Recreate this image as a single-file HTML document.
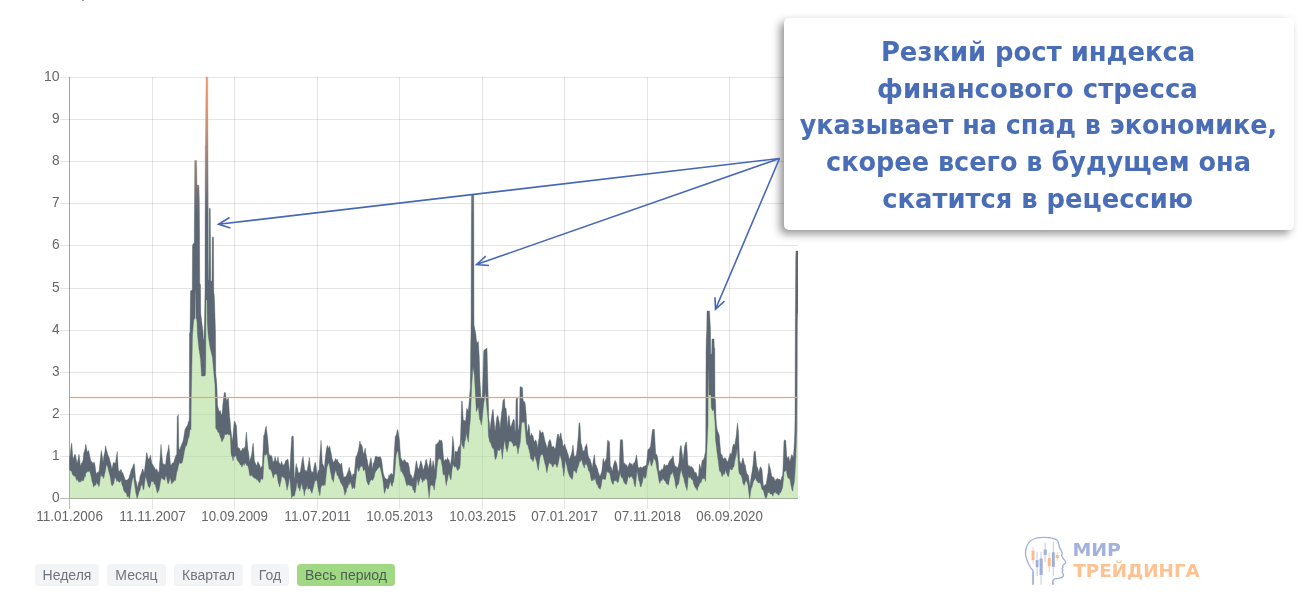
<!DOCTYPE html>
<html lang="ru">
<head>
<meta charset="utf-8">
<title>Индекс финансового стресса</title>
<style>
html,body{margin:0;padding:0;background:#fff;}
body{width:1300px;height:600px;position:relative;overflow:hidden;font-family:"Liberation Sans",sans-serif;}
#chart{position:absolute;left:0;top:0;width:1300px;height:600px;}
#chart text{font-family:"Liberation Sans",sans-serif;font-size:14px;fill:#666;}
#callout{position:absolute;left:784px;top:17.5px;width:510px;height:212.5px;background:#fff;border-radius:5px;
  box-shadow:-4px 4px 8px rgba(0,0,0,.42);}
#arrows{position:absolute;left:0;top:0;width:1300px;height:600px;}
#arrows text{font-family:"DejaVu Sans","Liberation Sans",sans-serif;font-weight:bold;font-size:25.9px;fill:#4a6db7;}
.btns{position:absolute;left:35px;top:564px;height:22px;white-space:nowrap;font-size:14px;}
.btn{position:absolute;top:0;height:22px;line-height:23px;border-radius:3.5px;background:#f3f4f6;color:#6d7680;text-align:center;}
.btn.on{background:#a1d884;color:#4d5f54;}
#logo{position:absolute;left:1020px;top:530px;width:190px;height:62px;}
#logo text{font-family:"DejaVu Sans","Liberation Sans",sans-serif;font-weight:bold;}
</style>
</head>
<body>
<svg id="chart" width="1300" height="600" viewBox="0 0 1300 600">
<defs>
<linearGradient id="lg" gradientUnits="userSpaceOnUse" x1="0" y1="77" x2="0" y2="215">
<stop offset="0" stop-color="#ef9a70"/>
<stop offset="0.38" stop-color="#c58d74"/>
<stop offset="0.62" stop-color="#96827e"/>
<stop offset="1" stop-color="#5c6773"/>
</linearGradient>
<clipPath id="cp"><rect x="69" y="76" width="729" height="423.5"/></clipPath>
</defs>
<rect x="82" y="0" width="2" height="1" fill="#999"/>
<g shape-rendering="crispEdges">
<rect x="69" y="77" width="1" height="422" fill="#a6a6a6"/>
<rect x="69" y="499" width="1" height="9.5" fill="#bdbdbd"/>
<rect x="152" y="77" width="1" height="431.5" fill="#000" fill-opacity="0.1"/>
<rect x="234" y="77" width="1" height="431.5" fill="#000" fill-opacity="0.1"/>
<rect x="317" y="77" width="1" height="431.5" fill="#000" fill-opacity="0.1"/>
<rect x="399" y="77" width="1" height="431.5" fill="#000" fill-opacity="0.1"/>
<rect x="482" y="77" width="1" height="431.5" fill="#000" fill-opacity="0.1"/>
<rect x="564" y="77" width="1" height="431.5" fill="#000" fill-opacity="0.1"/>
<rect x="647" y="77" width="1" height="431.5" fill="#000" fill-opacity="0.1"/>
<rect x="729" y="77" width="1" height="431.5" fill="#000" fill-opacity="0.1"/>
<rect x="60" y="77" width="738" height="1" fill="#000" fill-opacity="0.1"/>
<rect x="60" y="119" width="738" height="1" fill="#000" fill-opacity="0.1"/>
<rect x="60" y="161" width="738" height="1" fill="#000" fill-opacity="0.1"/>
<rect x="60" y="203" width="738" height="1" fill="#000" fill-opacity="0.1"/>
<rect x="60" y="245" width="738" height="1" fill="#000" fill-opacity="0.1"/>
<rect x="60" y="288" width="738" height="1" fill="#000" fill-opacity="0.1"/>
<rect x="60" y="330" width="738" height="1" fill="#000" fill-opacity="0.1"/>
<rect x="60" y="372" width="738" height="1" fill="#000" fill-opacity="0.1"/>
<rect x="60" y="414" width="738" height="1" fill="#000" fill-opacity="0.1"/>
<rect x="60" y="456" width="738" height="1" fill="#000" fill-opacity="0.1"/>
<rect x="69" y="498" width="729" height="1" fill="#a6a6a6"/>
<rect x="60" y="498" width="9" height="1" fill="#bdbdbd"/>
</g>
<g clip-path="url(#cp)">
<path d="M69.50,498.5 L69.50,457.3 L69.75,457.3 L70.25,454.5 L71.00,446.9 L71.50,443.2 L71.75,443.1 L72.50,453.7 L73.00,459.3 L73.25,458.3 L74.00,456.7 L74.25,455.7 L74.50,455.0 L74.75,454.4 L75.25,454.5 L75.50,455.1 L76.25,459.2 L77.00,463.2 L77.75,460.9 L78.50,456.8 L79.00,454.3 L79.25,455.8 L80.00,462.2 L80.25,464.7 L80.50,465.8 L80.75,466.1 L81.50,462.9 L82.25,462.6 L82.50,462.1 L83.00,460.3 L83.75,453.2 L84.50,450.9 L85.25,447.8 L85.50,445.6 L85.75,444.3 L86.00,444.8 L86.75,449.6 L87.00,451.2 L87.50,452.3 L88.25,450.3 L89.00,452.1 L89.75,456.3 L90.50,459.5 L91.00,461.4 L92.00,461.7 L92.75,463.6 L93.00,463.8 L93.50,462.8 L94.25,462.1 L94.50,462.8 L95.00,465.3 L95.75,471.1 L96.25,473.8 L96.50,474.1 L97.25,472.3 L98.00,472.7 L98.75,471.4 L99.00,471.5 L99.50,467.0 L100.25,459.4 L101.00,453.1 L101.25,450.4 L101.50,451.4 L101.75,452.7 L102.50,457.9 L103.00,461.8 L103.25,460.6 L104.00,455.3 L104.75,452.6 L105.50,445.9 L105.75,445.9 L106.25,449.3 L107.00,451.5 L107.50,453.7 L107.75,454.6 L108.50,456.3 L109.00,456.9 L110.00,461.1 L110.75,463.4 L111.50,467.2 L111.75,468.4 L112.25,467.7 L113.00,464.1 L113.50,462.4 L113.75,462.0 L114.50,463.3 L115.25,463.0 L115.50,462.5 L115.75,461.3 L116.00,458.9 L116.75,454.4 L117.25,451.4 L117.50,455.9 L118.25,468.3 L118.50,470.5 L119.00,471.6 L119.75,470.9 L120.50,470.0 L120.75,469.4 L121.25,469.9 L122.00,472.9 L122.75,472.5 L123.50,475.0 L123.75,475.7 L124.25,477.0 L125.00,479.4 L125.75,480.1 L126.25,480.4 L126.50,480.0 L127.25,479.9 L128.75,478.3 L129.00,477.9 L129.50,475.6 L130.25,473.4 L131.00,470.5 L131.50,469.2 L132.50,467.5 L133.25,465.3 L134.00,463.8 L134.25,463.7 L134.50,465.8 L134.75,469.0 L135.50,478.0 L135.75,480.0 L136.25,481.6 L137.50,487.3 L137.75,487.7 L138.50,481.9 L139.25,481.5 L140.00,476.6 L140.50,475.1 L140.75,474.4 L141.50,472.7 L142.25,469.7 L142.50,469.1 L143.00,469.1 L143.75,472.5 L144.25,472.4 L145.25,464.2 L146.00,458.6 L146.50,453.1 L146.75,452.3 L147.50,455.8 L148.25,459.1 L148.50,459.3 L149.00,458.8 L149.75,457.6 L150.25,455.3 L150.50,455.2 L151.25,460.0 L152.00,463.7 L152.25,464.4 L152.50,464.5 L152.75,464.2 L153.50,466.2 L154.25,467.0 L155.00,468.7 L155.75,470.2 L156.50,468.7 L157.00,469.7 L157.25,470.1 L158.00,472.5 L158.75,471.8 L159.00,472.3 L159.50,465.5 L160.25,456.1 L161.00,444.3 L161.75,453.7 L162.50,461.5 L163.00,464.7 L163.25,463.6 L164.00,464.4 L164.75,464.5 L165.50,464.4 L165.75,462.9 L166.25,458.4 L167.00,453.5 L167.75,451.2 L168.50,446.7 L168.75,444.8 L169.25,449.5 L170.00,459.6 L170.25,463.1 L170.50,464.4 L170.75,464.7 L171.50,465.1 L172.25,462.9 L172.50,463.1 L173.00,463.2 L173.75,462.2 L174.50,459.8 L175.25,457.1 L176.00,455.2 L176.75,454.4 L177.00,435.4 L177.25,416.4 L177.50,417.0 L178.25,414.5 L178.50,428.1 L178.75,445.1 L179.00,448.6 L179.50,449.7 L179.75,450.1 L180.50,447.2 L181.25,445.6 L182.00,443.2 L182.25,443.1 L182.50,442.6 L182.75,441.9 L183.50,438.7 L185.00,429.5 L185.75,428.0 L186.50,426.7 L187.25,425.7 L188.00,423.7 L188.25,422.2 L188.50,421.7 L188.75,421.3 L189.00,422.6 L189.25,417.2 L189.50,333.0 L190.00,332.3 L190.25,311.5 L190.50,290.9 L192.25,290.0 L192.50,246.0 L193.00,244.0 L194.25,243.1 L194.50,201.8 L194.75,160.5 L196.50,160.5 L196.75,168.4 L197.00,188.5 L197.25,185.0 L198.75,185.0 L199.00,189.0 L199.25,199.0 L199.50,227.3 L199.75,283.0 L200.50,285.0 L200.75,313.4 L203.00,332.0 L203.25,338.7 L203.50,340.0 L203.75,340.0 L204.00,336.9 L204.50,321.1 L204.75,307.5 L205.00,290.0 L205.25,145.0 L205.50,145.0 L206.00,77.0 L207.75,77.0 L208.00,150.0 L208.25,258.3 L208.50,280.0 L209.00,280.0 L209.25,208.4 L210.25,208.4 L210.75,281.0 L212.00,281.0 L212.25,237.3 L213.50,237.3 L213.75,291.3 L214.25,295.7 L214.50,300.3 L215.50,333.0 L215.75,373.5 L216.75,383.5 L217.00,388.3 L217.25,396.3 L217.50,404.9 L218.00,407.5 L218.75,410.3 L219.50,411.7 L220.25,410.5 L221.00,413.6 L221.75,415.1 L222.00,414.0 L223.25,400.4 L224.00,394.5 L224.25,392.6 L224.75,392.7 L225.25,392.6 L225.50,393.4 L226.25,398.5 L226.50,400.4 L227.00,400.2 L227.25,399.2 L227.50,399.0 L227.75,399.0 L228.25,397.8 L228.50,398.9 L229.25,412.0 L229.50,415.5 L229.75,417.9 L230.00,419.5 L230.75,429.1 L232.25,441.0 L232.50,440.2 L233.00,435.5 L233.75,426.2 L234.25,421.4 L234.50,421.1 L235.25,422.4 L236.00,425.0 L236.25,424.9 L236.50,427.2 L236.75,430.7 L237.50,445.3 L237.75,447.6 L238.25,447.4 L239.00,448.5 L239.75,448.5 L240.25,450.5 L240.50,451.1 L241.25,451.0 L242.00,449.8 L242.75,448.0 L243.00,448.4 L243.50,449.4 L244.25,447.1 L245.00,449.0 L245.75,438.9 L246.25,432.0 L246.50,432.6 L247.25,441.9 L247.50,444.9 L247.75,447.6 L248.00,449.5 L248.75,453.8 L249.50,461.2 L249.75,461.7 L250.25,458.7 L251.00,457.3 L251.50,455.1 L251.75,453.9 L252.50,446.5 L253.25,443.2 L253.50,446.6 L254.00,454.0 L254.25,458.5 L254.50,460.8 L254.75,461.9 L255.50,463.2 L256.25,465.0 L256.50,465.4 L257.00,465.5 L257.75,461.6 L258.25,461.8 L258.50,462.7 L259.25,464.2 L260.00,465.5 L260.25,467.0 L260.50,467.8 L260.75,468.3 L261.50,466.6 L262.25,466.7 L262.50,462.6 L263.50,439.4 L263.75,435.2 L264.50,434.6 L265.25,429.2 L266.00,426.4 L266.25,426.3 L266.50,428.2 L266.75,431.2 L267.50,436.8 L267.75,439.2 L268.25,445.2 L269.00,455.9 L269.75,454.3 L270.50,456.3 L271.25,455.7 L271.50,455.4 L271.75,455.7 L272.75,461.0 L273.00,462.8 L273.50,461.4 L274.25,460.9 L275.00,456.4 L275.75,459.0 L276.25,461.5 L276.50,461.5 L277.25,460.9 L277.75,457.7 L278.00,456.6 L278.75,462.3 L279.25,463.4 L279.50,462.7 L280.25,464.9 L281.00,463.1 L281.50,461.8 L281.75,461.3 L282.50,465.2 L283.25,464.3 L283.50,465.1 L283.75,465.5 L284.00,465.5 L284.75,463.6 L285.50,461.0 L285.75,460.6 L287.00,459.7 L287.75,459.1 L288.00,459.3 L288.50,462.9 L289.25,468.7 L289.50,471.6 L289.75,472.3 L290.00,468.8 L290.75,452.5 L291.50,440.4 L291.75,436.9 L292.25,435.9 L293.00,435.9 L293.25,436.4 L293.50,441.6 L293.75,453.8 L294.25,477.3 L294.50,480.0 L296.00,464.5 L296.25,463.5 L296.50,464.7 L296.75,467.0 L297.50,467.7 L298.25,472.6 L298.50,472.9 L299.00,472.6 L299.75,472.7 L300.25,471.9 L300.50,470.7 L302.00,460.8 L302.75,457.8 L303.00,456.4 L304.25,466.1 L305.00,471.4 L305.75,469.9 L307.00,471.8 L307.25,470.3 L308.00,465.5 L308.75,461.7 L309.25,457.2 L309.50,458.3 L310.25,465.4 L311.00,470.3 L311.75,472.5 L312.50,471.7 L313.00,473.0 L313.25,471.9 L314.00,466.8 L314.75,463.2 L315.25,462.1 L315.50,462.9 L316.25,466.8 L317.00,474.6 L317.75,472.4 L318.50,469.9 L319.00,470.8 L319.25,467.8 L320.00,453.9 L320.75,444.9 L321.00,440.2 L321.50,447.4 L322.25,463.1 L322.50,464.3 L323.00,464.3 L323.75,466.3 L324.25,468.6 L324.50,467.4 L325.00,460.5 L325.25,457.9 L326.00,452.2 L326.50,448.2 L327.50,445.4 L328.25,447.8 L329.00,448.0 L329.50,446.4 L329.75,446.0 L330.50,450.7 L331.25,453.4 L331.75,456.7 L332.00,458.4 L332.75,459.9 L333.00,461.7 L333.50,461.9 L334.25,461.5 L335.00,460.1 L335.75,458.3 L336.50,460.8 L337.25,459.1 L337.50,459.7 L337.75,460.6 L338.00,461.8 L338.75,462.5 L339.50,463.2 L339.75,464.1 L340.25,464.6 L341.00,463.9 L341.50,463.0 L341.75,463.3 L342.50,470.4 L343.25,474.4 L343.50,476.5 L343.75,477.8 L344.75,476.5 L345.50,477.0 L346.25,475.8 L346.50,475.2 L347.00,473.9 L347.75,472.3 L348.50,469.9 L349.25,467.1 L349.50,468.3 L350.00,470.8 L350.75,472.5 L351.75,476.3 L352.25,476.8 L353.00,473.6 L353.75,474.4 L354.25,473.9 L354.50,472.0 L355.25,462.7 L355.75,457.7 L356.00,455.8 L356.75,456.2 L357.50,453.1 L357.75,452.8 L358.25,450.8 L359.00,447.0 L359.75,441.2 L360.00,441.1 L360.50,443.7 L361.25,444.4 L362.00,445.8 L362.25,446.7 L362.50,448.1 L362.75,449.9 L363.50,453.4 L363.75,454.4 L364.25,452.9 L365.00,448.4 L365.25,448.0 L365.50,450.3 L365.75,452.8 L366.50,456.8 L366.75,458.0 L367.25,460.0 L368.00,464.7 L368.25,466.5 L368.50,466.9 L368.75,466.6 L369.50,463.9 L370.25,460.4 L371.00,457.5 L371.75,463.2 L372.25,468.3 L372.50,468.9 L373.25,463.1 L374.00,462.6 L374.75,459.5 L375.00,457.8 L375.50,456.2 L376.25,456.2 L377.75,456.9 L378.50,457.0 L379.00,456.9 L379.25,457.3 L380.00,456.4 L380.75,457.4 L381.50,459.7 L381.75,460.7 L383.00,471.2 L383.50,474.0 L384.50,477.0 L385.25,478.3 L386.00,478.7 L386.75,479.3 L387.00,479.4 L387.50,478.9 L388.25,478.2 L389.00,474.6 L389.75,476.6 L390.25,474.7 L390.50,473.9 L391.25,473.6 L392.00,473.7 L392.75,474.9 L393.00,474.4 L393.50,465.7 L393.75,461.3 L394.25,452.5 L395.00,440.0 L395.25,436.4 L395.50,436.1 L395.75,436.1 L396.50,433.9 L397.25,429.9 L397.50,429.4 L397.75,429.6 L398.75,435.8 L399.25,438.4 L399.50,440.5 L400.25,452.1 L400.50,455.2 L400.75,458.2 L401.00,458.0 L402.50,461.3 L403.25,461.5 L403.75,460.2 L404.00,459.5 L404.75,460.1 L405.50,461.0 L405.75,461.4 L406.25,462.4 L407.00,462.3 L407.75,462.6 L408.25,463.3 L409.25,467.3 L410.00,472.9 L410.25,473.9 L410.50,474.5 L410.75,474.8 L411.50,475.4 L412.25,477.8 L413.00,478.7 L413.75,476.3 L414.50,473.2 L414.75,471.8 L415.25,467.8 L416.00,463.0 L416.25,460.7 L416.50,460.8 L416.75,462.1 L417.50,466.7 L418.25,469.0 L418.50,469.3 L419.00,468.3 L419.75,465.3 L420.50,461.8 L421.00,460.7 L421.25,462.1 L422.00,464.3 L422.75,468.1 L423.00,469.8 L423.50,469.5 L424.25,466.8 L425.00,464.6 L425.75,460.4 L426.25,459.1 L426.50,459.8 L427.25,463.4 L428.00,467.6 L428.25,468.9 L428.50,468.2 L428.75,466.3 L429.50,463.6 L430.25,457.9 L430.50,458.2 L431.00,461.7 L431.50,466.8 L431.75,468.0 L432.50,465.0 L433.00,460.6 L433.25,461.6 L434.00,464.9 L434.75,469.2 L435.00,470.4 L435.50,450.4 L435.75,444.2 L436.25,444.4 L437.00,444.1 L437.75,442.6 L438.50,442.8 L439.25,439.7 L440.00,440.5 L440.50,440.7 L440.75,440.9 L441.50,439.8 L442.25,442.5 L442.50,445.0 L443.00,451.7 L443.50,457.6 L443.75,459.5 L444.50,461.3 L445.25,459.6 L446.00,459.3 L446.75,460.5 L447.50,457.4 L448.25,459.9 L448.50,459.6 L449.00,459.7 L449.75,463.0 L450.25,464.9 L450.50,464.3 L451.25,459.8 L451.50,457.8 L451.75,454.7 L452.00,449.4 L452.50,440.3 L452.75,436.2 L453.50,442.0 L454.00,447.0 L454.25,454.1 L454.50,462.2 L454.75,460.4 L455.00,452.0 L455.75,450.9 L456.50,452.1 L457.25,451.8 L457.50,451.3 L457.75,450.6 L458.00,449.4 L458.75,446.7 L459.50,446.4 L460.25,443.6 L460.50,438.1 L461.00,422.4 L461.25,414.9 L461.50,406.3 L461.75,400.9 L462.00,400.9 L462.25,401.8 L462.50,406.6 L463.25,419.8 L463.50,420.2 L464.75,420.5 L465.50,421.4 L465.75,419.9 L466.25,413.3 L466.50,410.6 L466.75,408.2 L467.00,408.9 L467.75,409.7 L468.25,411.0 L468.50,409.1 L469.25,400.5 L469.75,393.5 L470.00,390.9 L470.25,387.7 L470.50,367.7 L470.75,343.0 L471.00,333.0 L471.25,259.9 L471.50,194.7 L473.75,194.7 L474.00,325.0 L476.00,335.0 L476.25,339.2 L476.50,340.8 L477.00,342.7 L478.25,341.4 L478.50,344.2 L479.25,357.0 L479.50,365.3 L479.75,373.8 L480.00,381.2 L481.00,398.7 L482.25,396.2 L482.50,390.3 L483.50,356.3 L483.75,350.6 L487.00,348.0 L487.75,379.1 L488.00,388.7 L488.25,397.5 L488.75,417.5 L489.00,420.0 L489.25,421.8 L489.50,424.8 L490.00,430.0 L490.25,428.0 L491.00,421.2 L491.75,415.6 L492.00,413.7 L492.50,410.6 L493.00,409.3 L493.25,411.0 L493.75,417.4 L494.75,427.9 L495.00,431.2 L495.50,428.0 L496.25,421.4 L496.75,417.7 L497.00,416.7 L497.75,415.4 L498.00,415.9 L498.25,417.2 L498.50,419.3 L499.00,421.1 L499.25,422.1 L500.00,429.0 L500.75,420.7 L501.50,413.4 L501.75,411.8 L502.00,410.1 L502.25,408.2 L503.00,400.7 L503.25,399.7 L503.75,400.0 L504.25,398.4 L504.50,399.3 L505.00,407.7 L505.25,408.3 L506.00,408.0 L506.75,415.4 L507.00,419.0 L507.50,427.4 L508.25,419.4 L508.50,416.2 L509.00,415.4 L509.25,416.1 L509.50,418.3 L509.75,421.9 L510.00,424.8 L510.50,426.4 L510.75,426.8 L511.25,426.1 L511.75,424.3 L512.00,423.2 L512.75,421.2 L513.00,420.1 L513.25,419.4 L513.50,419.2 L514.25,420.0 L514.50,422.3 L515.00,430.7 L515.50,432.2 L515.75,422.1 L516.00,400.0 L516.50,398.3 L517.25,397.9 L517.50,398.0 L517.75,418.4 L518.00,428.9 L518.50,430.7 L519.25,423.2 L519.50,415.4 L520.00,387.2 L520.25,386.6 L521.00,387.2 L521.75,387.1 L522.50,388.0 L523.00,399.0 L523.25,401.4 L524.00,400.9 L524.75,402.5 L525.00,402.4 L525.50,407.0 L526.00,411.9 L526.25,416.1 L526.75,425.7 L527.00,429.4 L527.50,433.2 L527.75,431.4 L528.50,424.3 L529.25,426.3 L529.50,428.2 L530.00,434.7 L530.25,435.5 L530.50,435.9 L530.75,436.0 L531.50,433.1 L532.25,435.7 L532.50,435.4 L533.00,435.4 L533.75,440.0 L534.25,441.5 L535.25,440.9 L535.50,440.1 L535.75,439.8 L536.00,440.6 L536.75,442.3 L537.50,447.8 L537.75,447.4 L538.25,442.4 L539.00,438.0 L539.50,432.1 L539.75,429.9 L540.50,431.6 L541.25,433.5 L541.50,433.2 L541.75,432.7 L542.00,431.7 L542.75,432.2 L543.00,431.9 L544.25,437.5 L545.00,441.2 L545.75,443.2 L546.50,445.9 L547.00,448.4 L548.00,445.2 L548.75,441.3 L549.50,440.6 L549.75,439.6 L550.25,439.7 L551.00,441.9 L551.50,445.3 L551.75,446.8 L552.50,447.1 L553.25,446.1 L554.00,447.2 L554.25,447.9 L554.50,448.4 L554.75,448.8 L555.50,447.8 L555.75,446.7 L556.25,442.3 L557.00,437.4 L557.50,434.6 L557.75,434.1 L558.50,434.0 L559.00,437.9 L559.25,438.4 L560.00,435.5 L560.75,432.8 L561.00,433.0 L561.50,437.6 L562.25,440.3 L563.00,446.4 L563.75,445.9 L564.50,443.9 L565.00,444.6 L565.25,446.2 L566.00,448.6 L566.75,449.9 L567.50,452.9 L567.75,453.7 L568.25,454.8 L569.00,458.5 L569.50,459.0 L569.75,458.6 L570.50,456.6 L571.25,454.4 L572.00,451.4 L572.75,445.8 L573.00,445.0 L573.50,449.7 L574.25,456.4 L574.50,456.9 L575.00,456.3 L576.25,455.2 L576.50,453.6 L577.25,447.3 L578.00,438.6 L578.25,436.2 L578.50,432.3 L579.00,422.9 L579.50,423.0 L579.75,422.7 L580.00,425.7 L580.25,429.5 L581.00,443.1 L581.75,445.1 L582.50,449.5 L583.00,451.1 L583.25,451.3 L584.00,450.4 L584.50,451.0 L584.75,449.2 L585.00,446.4 L585.50,446.7 L586.25,444.8 L586.50,443.8 L586.75,444.1 L587.00,445.4 L587.75,452.8 L588.25,456.0 L588.50,456.5 L589.25,458.5 L590.00,459.1 L590.25,459.6 L590.50,460.5 L590.75,461.7 L591.50,464.0 L592.25,467.7 L592.50,466.4 L593.00,462.2 L593.75,458.1 L594.25,454.7 L594.50,455.2 L595.25,463.4 L595.50,464.5 L595.75,465.1 L596.00,464.8 L596.75,467.3 L597.50,468.4 L597.75,469.4 L598.25,472.2 L599.00,474.1 L599.50,475.7 L599.75,476.0 L600.50,475.3 L601.25,472.7 L601.50,472.5 L601.75,471.6 L602.00,469.2 L602.75,462.4 L603.00,459.1 L603.50,458.4 L604.25,462.2 L605.00,461.4 L605.75,459.2 L606.25,459.3 L606.50,457.5 L607.25,445.1 L607.50,442.0 L607.75,439.9 L608.00,440.2 L608.75,442.5 L609.25,441.2 L609.50,443.2 L610.25,465.2 L610.50,467.0 L611.00,466.7 L611.75,469.6 L612.25,470.9 L612.50,470.5 L613.25,466.1 L614.00,463.4 L614.75,461.2 L615.00,460.2 L615.50,461.6 L616.25,462.2 L617.00,465.0 L617.75,469.9 L618.50,470.8 L619.00,473.8 L619.25,468.0 L620.00,447.4 L620.25,441.4 L620.50,439.5 L620.75,439.8 L622.25,439.7 L622.50,439.8 L622.75,443.2 L623.50,459.9 L623.75,463.6 L624.50,463.3 L625.00,463.5 L626.00,465.4 L626.75,464.7 L627.50,467.5 L627.75,467.3 L628.25,465.9 L629.00,463.9 L629.75,462.5 L630.25,463.0 L630.50,463.7 L631.25,464.2 L632.00,463.4 L632.75,466.0 L633.00,465.7 L633.50,463.4 L634.25,462.7 L635.00,461.6 L635.75,458.4 L636.25,455.1 L636.50,455.3 L637.25,459.9 L638.00,466.5 L638.25,467.2 L638.75,467.8 L639.50,467.9 L640.25,466.7 L641.00,467.6 L642.50,467.8 L643.25,466.2 L643.75,466.8 L644.00,467.3 L644.75,465.7 L645.50,465.6 L646.25,466.0 L646.50,464.3 L647.00,458.7 L647.50,452.6 L647.75,450.5 L648.50,448.8 L649.25,449.2 L650.00,447.0 L650.25,447.3 L650.50,446.2 L650.75,444.4 L651.50,437.7 L652.25,431.2 L652.50,430.0 L653.00,429.0 L653.75,429.6 L654.25,429.2 L654.50,432.3 L655.25,446.1 L655.50,450.8 L655.75,454.1 L656.00,454.6 L656.75,454.6 L657.50,456.9 L657.75,457.7 L658.25,462.6 L659.00,471.9 L659.75,470.4 L660.50,471.3 L661.25,469.7 L661.50,469.6 L661.75,469.3 L662.00,468.7 L662.75,469.9 L663.50,466.6 L664.25,464.0 L664.50,464.4 L665.00,465.4 L665.75,466.0 L666.50,465.1 L667.00,465.3 L667.25,465.4 L668.00,464.6 L668.75,462.5 L669.50,461.1 L670.25,460.0 L670.50,459.7 L671.00,458.9 L671.75,458.2 L672.50,457.2 L672.75,455.8 L673.25,456.1 L674.00,462.2 L674.50,464.4 L674.75,465.2 L675.50,466.6 L676.25,466.5 L677.00,467.9 L677.75,467.6 L678.50,464.8 L679.00,462.5 L679.25,458.7 L679.75,451.5 L680.00,448.6 L680.75,445.4 L681.25,445.9 L681.50,448.7 L682.25,454.0 L683.00,460.2 L683.75,454.2 L684.50,447.5 L685.00,444.7 L685.25,444.8 L686.00,441.8 L686.50,442.2 L686.75,445.2 L687.50,456.9 L687.75,461.4 L688.00,464.8 L688.25,465.1 L689.00,466.8 L689.75,465.5 L690.50,467.2 L691.00,466.6 L692.00,467.1 L692.75,468.3 L693.50,468.8 L693.75,469.8 L694.25,471.5 L695.00,473.1 L695.75,471.9 L696.25,472.9 L696.50,473.6 L697.25,476.7 L698.00,476.3 L698.25,477.4 L698.50,475.9 L698.75,473.0 L699.25,465.9 L699.50,464.1 L700.25,466.2 L701.00,469.8 L701.75,462.7 L702.25,460.2 L702.50,459.9 L703.25,460.2 L704.00,458.0 L704.25,457.7 L704.50,456.6 L704.75,455.1 L705.50,451.3 L705.75,441.0 L706.00,354.0 L706.25,339.8 L706.50,334.2 L706.75,330.7 L707.00,311.0 L709.50,311.0 L710.50,330.0 L710.75,354.0 L711.75,354.0 L712.00,339.0 L714.00,339.0 L714.25,348.0 L714.75,348.0 L715.00,399.1 L715.50,399.7 L715.75,407.5 L716.00,417.9 L716.50,425.0 L716.75,426.7 L717.50,431.1 L718.00,432.6 L718.25,432.4 L719.00,434.7 L719.25,435.3 L719.50,438.1 L719.75,442.0 L720.50,450.3 L720.75,453.0 L721.25,454.4 L722.00,454.8 L722.50,456.6 L722.75,457.4 L723.50,459.3 L724.25,458.3 L725.00,457.6 L725.25,457.8 L725.75,458.5 L726.50,460.2 L727.25,461.7 L728.00,461.2 L728.75,458.2 L729.50,456.1 L729.75,454.8 L730.25,453.0 L731.00,455.2 L731.50,453.8 L731.75,452.4 L732.50,447.6 L733.25,444.7 L733.50,444.1 L734.00,444.2 L734.50,445.2 L734.75,445.0 L735.50,440.1 L736.00,437.4 L736.25,435.6 L737.00,426.9 L737.50,423.1 L737.75,424.4 L738.50,433.1 L738.75,437.9 L739.25,452.8 L739.50,459.5 L739.75,461.9 L740.00,461.5 L740.75,463.5 L741.25,463.9 L741.50,463.5 L742.25,459.4 L742.75,458.0 L743.00,457.8 L743.75,461.1 L744.50,464.2 L744.75,464.4 L745.25,464.9 L746.00,469.9 L746.50,472.2 L746.75,473.2 L747.50,474.6 L748.25,475.0 L748.50,475.9 L748.75,477.3 L749.00,479.7 L749.75,484.8 L750.00,486.4 L750.50,481.7 L751.25,476.0 L751.50,474.5 L752.00,471.9 L752.75,466.7 L753.00,464.9 L753.50,458.9 L754.00,452.1 L754.25,452.1 L755.00,450.9 L755.25,451.2 L755.50,453.1 L755.75,455.8 L756.50,464.6 L756.75,466.2 L757.25,467.1 L758.00,468.9 L758.50,472.1 L758.75,473.2 L759.50,469.6 L760.25,467.2 L760.50,466.7 L760.75,466.7 L761.00,467.7 L761.75,469.3 L762.00,470.0 L762.50,475.4 L763.25,484.9 L763.50,486.0 L764.00,486.3 L764.75,485.0 L765.50,484.2 L766.00,484.9 L766.25,483.8 L767.00,479.0 L767.75,474.6 L768.00,472.9 L768.50,466.8 L768.75,464.5 L769.00,463.3 L769.25,465.2 L770.00,467.5 L770.50,469.8 L770.75,470.7 L771.50,474.9 L772.25,477.0 L772.50,477.1 L772.75,477.1 L773.00,476.8 L773.75,477.4 L774.50,479.4 L775.25,481.3 L775.50,480.5 L776.00,478.9 L776.75,479.4 L777.50,478.2 L778.00,478.9 L778.25,479.6 L779.00,479.1 L779.75,479.2 L780.50,480.4 L780.75,480.2 L781.25,478.9 L782.00,476.4 L782.50,475.8 L782.75,473.4 L783.50,454.5 L784.00,440.5 L784.25,440.4 L785.00,439.8 L785.50,440.3 L785.75,440.8 L786.50,453.1 L786.75,456.5 L787.25,457.1 L788.00,458.6 L788.50,457.1 L788.75,456.5 L789.50,460.5 L790.00,461.3 L791.00,457.3 L791.50,454.9 L791.75,454.6 L792.50,455.4 L793.25,457.8 L793.50,455.8 L794.00,448.8 L794.25,444.4 L794.50,440.0 L794.75,433.0 L795.00,420.0 L795.25,333.3 L795.50,297.5 L795.75,258.7 L796.00,251.0 L798.00,251.0 L798.00,498.5 Z" fill="#a1d884" fill-opacity="0.5"/>
<path d="M69.50,457.3 L69.75,457.3 L70.25,454.5 L71.00,446.9 L71.50,443.2 L71.75,443.1 L72.50,453.7 L73.00,459.3 L73.25,458.3 L74.00,456.7 L74.25,455.7 L74.50,455.0 L74.75,454.4 L75.25,454.5 L75.50,455.1 L76.25,459.2 L77.00,463.2 L77.75,460.9 L78.50,456.8 L79.00,454.3 L79.25,455.8 L80.00,462.2 L80.25,464.7 L80.50,465.8 L80.75,466.1 L81.50,462.9 L82.25,462.6 L82.50,462.1 L83.00,460.3 L83.75,453.2 L84.50,450.9 L85.25,447.8 L85.50,445.6 L85.75,444.3 L86.00,444.8 L86.75,449.6 L87.00,451.2 L87.50,452.3 L88.25,450.3 L89.00,452.1 L89.75,456.3 L90.50,459.5 L91.00,461.4 L92.00,461.7 L92.75,463.6 L93.00,463.8 L93.50,462.8 L94.25,462.1 L94.50,462.8 L95.00,465.3 L95.75,471.1 L96.25,473.8 L96.50,474.1 L97.25,472.3 L98.00,472.7 L98.75,471.4 L99.00,471.5 L99.50,467.0 L100.25,459.4 L101.00,453.1 L101.25,450.4 L101.50,451.4 L101.75,452.7 L102.50,457.9 L103.00,461.8 L103.25,460.6 L104.00,455.3 L104.75,452.6 L105.50,445.9 L105.75,445.9 L106.25,449.3 L107.00,451.5 L107.50,453.7 L107.75,454.6 L108.50,456.3 L109.00,456.9 L110.00,461.1 L110.75,463.4 L111.50,467.2 L111.75,468.4 L112.25,467.7 L113.00,464.1 L113.50,462.4 L113.75,462.0 L114.50,463.3 L115.25,463.0 L115.50,462.5 L115.75,461.3 L116.00,458.9 L116.75,454.4 L117.25,451.4 L117.50,455.9 L118.25,468.3 L118.50,470.5 L119.00,471.6 L119.75,470.9 L120.50,470.0 L120.75,469.4 L121.25,469.9 L122.00,472.9 L122.75,472.5 L123.50,475.0 L123.75,475.7 L124.25,477.0 L125.00,479.4 L125.75,480.1 L126.25,480.4 L126.50,480.0 L127.25,479.9 L128.75,478.3 L129.00,477.9 L129.50,475.6 L130.25,473.4 L131.00,470.5 L131.50,469.2 L132.50,467.5 L133.25,465.3 L134.00,463.8 L134.25,463.7 L134.50,465.8 L134.75,469.0 L135.50,478.0 L135.75,480.0 L136.25,481.6 L137.50,487.3 L137.75,487.7 L138.50,481.9 L139.25,481.5 L140.00,476.6 L140.50,475.1 L140.75,474.4 L141.50,472.7 L142.25,469.7 L142.50,469.1 L143.00,469.1 L143.75,472.5 L144.25,472.4 L145.25,464.2 L146.00,458.6 L146.50,453.1 L146.75,452.3 L147.50,455.8 L148.25,459.1 L148.50,459.3 L149.00,458.8 L149.75,457.6 L150.25,455.3 L150.50,455.2 L151.25,460.0 L152.00,463.7 L152.25,464.4 L152.50,464.5 L152.75,464.2 L153.50,466.2 L154.25,467.0 L155.00,468.7 L155.75,470.2 L156.50,468.7 L157.00,469.7 L157.25,470.1 L158.00,472.5 L158.75,471.8 L159.00,472.3 L159.50,465.5 L160.25,456.1 L161.00,444.3 L161.75,453.7 L162.50,461.5 L163.00,464.7 L163.25,463.6 L164.00,464.4 L164.75,464.5 L165.50,464.4 L165.75,462.9 L166.25,458.4 L167.00,453.5 L167.75,451.2 L168.50,446.7 L168.75,444.8 L169.25,449.5 L170.00,459.6 L170.25,463.1 L170.50,464.4 L170.75,464.7 L171.50,465.1 L172.25,462.9 L172.50,463.1 L173.00,463.2 L173.75,462.2 L174.50,459.8 L175.25,457.1 L176.00,455.2 L176.75,454.4 L177.00,435.4 L177.25,416.4 L177.50,417.0 L178.25,414.5 L178.50,428.1 L178.75,445.1 L179.00,448.6 L179.50,449.7 L179.75,450.1 L180.50,447.2 L181.25,445.6 L182.00,443.2 L182.25,443.1 L182.50,442.6 L182.75,441.9 L183.50,438.7 L185.00,429.5 L185.75,428.0 L186.50,426.7 L187.25,425.7 L188.00,423.7 L188.25,422.2 L188.50,421.7 L188.75,421.3 L189.00,422.6 L189.25,417.2 L189.50,333.0 L190.00,332.3 L190.25,311.5 L190.50,290.9 L192.25,290.0 L192.50,246.0 L193.00,244.0 L194.25,243.1 L194.50,201.8 L194.75,160.5 L196.50,160.5 L196.75,168.4 L197.00,188.5 L197.25,185.0 L198.75,185.0 L199.00,189.0 L199.25,199.0 L199.50,227.3 L199.75,283.0 L200.50,285.0 L200.75,313.4 L203.00,332.0 L203.25,338.7 L203.50,340.0 L203.75,340.0 L204.00,336.9 L204.50,321.1 L204.75,307.5 L205.00,290.0 L205.25,145.0 L205.50,145.0 L206.00,77.0 L207.75,77.0 L208.00,150.0 L208.25,258.3 L208.50,280.0 L209.00,280.0 L209.25,208.4 L210.25,208.4 L210.75,281.0 L212.00,281.0 L212.25,237.3 L213.50,237.3 L213.75,291.3 L214.25,295.7 L214.50,300.3 L215.50,333.0 L215.75,373.5 L216.75,383.5 L217.00,388.3 L217.25,396.3 L217.50,404.9 L218.00,407.5 L218.75,410.3 L219.50,411.7 L220.25,410.5 L221.00,413.6 L221.75,415.1 L222.00,414.0 L223.25,400.4 L224.00,394.5 L224.25,392.6 L224.75,392.7 L225.25,392.6 L225.50,393.4 L226.25,398.5 L226.50,400.4 L227.00,400.2 L227.25,399.2 L227.50,399.0 L227.75,399.0 L228.25,397.8 L228.50,398.9 L229.25,412.0 L229.50,415.5 L229.75,417.9 L230.00,419.5 L230.75,429.1 L232.25,441.0 L232.50,440.2 L233.00,435.5 L233.75,426.2 L234.25,421.4 L234.50,421.1 L235.25,422.4 L236.00,425.0 L236.25,424.9 L236.50,427.2 L236.75,430.7 L237.50,445.3 L237.75,447.6 L238.25,447.4 L239.00,448.5 L239.75,448.5 L240.25,450.5 L240.50,451.1 L241.25,451.0 L242.00,449.8 L242.75,448.0 L243.00,448.4 L243.50,449.4 L244.25,447.1 L245.00,449.0 L245.75,438.9 L246.25,432.0 L246.50,432.6 L247.25,441.9 L247.50,444.9 L247.75,447.6 L248.00,449.5 L248.75,453.8 L249.50,461.2 L249.75,461.7 L250.25,458.7 L251.00,457.3 L251.50,455.1 L251.75,453.9 L252.50,446.5 L253.25,443.2 L253.50,446.6 L254.00,454.0 L254.25,458.5 L254.50,460.8 L254.75,461.9 L255.50,463.2 L256.25,465.0 L256.50,465.4 L257.00,465.5 L257.75,461.6 L258.25,461.8 L258.50,462.7 L259.25,464.2 L260.00,465.5 L260.25,467.0 L260.50,467.8 L260.75,468.3 L261.50,466.6 L262.25,466.7 L262.50,462.6 L263.50,439.4 L263.75,435.2 L264.50,434.6 L265.25,429.2 L266.00,426.4 L266.25,426.3 L266.50,428.2 L266.75,431.2 L267.50,436.8 L267.75,439.2 L268.25,445.2 L269.00,455.9 L269.75,454.3 L270.50,456.3 L271.25,455.7 L271.50,455.4 L271.75,455.7 L272.75,461.0 L273.00,462.8 L273.50,461.4 L274.25,460.9 L275.00,456.4 L275.75,459.0 L276.25,461.5 L276.50,461.5 L277.25,460.9 L277.75,457.7 L278.00,456.6 L278.75,462.3 L279.25,463.4 L279.50,462.7 L280.25,464.9 L281.00,463.1 L281.50,461.8 L281.75,461.3 L282.50,465.2 L283.25,464.3 L283.50,465.1 L283.75,465.5 L284.00,465.5 L284.75,463.6 L285.50,461.0 L285.75,460.6 L287.00,459.7 L287.75,459.1 L288.00,459.3 L288.50,462.9 L289.25,468.7 L289.50,471.6 L289.75,472.3 L290.00,468.8 L290.75,452.5 L291.50,440.4 L291.75,436.9 L292.25,435.9 L293.00,435.9 L293.25,436.4 L293.50,441.6 L293.75,453.8 L294.25,477.3 L294.50,480.0 L296.00,464.5 L296.25,463.5 L296.50,464.7 L296.75,467.0 L297.50,467.7 L298.25,472.6 L298.50,472.9 L299.00,472.6 L299.75,472.7 L300.25,471.9 L300.50,470.7 L302.00,460.8 L302.75,457.8 L303.00,456.4 L304.25,466.1 L305.00,471.4 L305.75,469.9 L307.00,471.8 L307.25,470.3 L308.00,465.5 L308.75,461.7 L309.25,457.2 L309.50,458.3 L310.25,465.4 L311.00,470.3 L311.75,472.5 L312.50,471.7 L313.00,473.0 L313.25,471.9 L314.00,466.8 L314.75,463.2 L315.25,462.1 L315.50,462.9 L316.25,466.8 L317.00,474.6 L317.75,472.4 L318.50,469.9 L319.00,470.8 L319.25,467.8 L320.00,453.9 L320.75,444.9 L321.00,440.2 L321.50,447.4 L322.25,463.1 L322.50,464.3 L323.00,464.3 L323.75,466.3 L324.25,468.6 L324.50,467.4 L325.00,460.5 L325.25,457.9 L326.00,452.2 L326.50,448.2 L327.50,445.4 L328.25,447.8 L329.00,448.0 L329.50,446.4 L329.75,446.0 L330.50,450.7 L331.25,453.4 L331.75,456.7 L332.00,458.4 L332.75,459.9 L333.00,461.7 L333.50,461.9 L334.25,461.5 L335.00,460.1 L335.75,458.3 L336.50,460.8 L337.25,459.1 L337.50,459.7 L337.75,460.6 L338.00,461.8 L338.75,462.5 L339.50,463.2 L339.75,464.1 L340.25,464.6 L341.00,463.9 L341.50,463.0 L341.75,463.3 L342.50,470.4 L343.25,474.4 L343.50,476.5 L343.75,477.8 L344.75,476.5 L345.50,477.0 L346.25,475.8 L346.50,475.2 L347.00,473.9 L347.75,472.3 L348.50,469.9 L349.25,467.1 L349.50,468.3 L350.00,470.8 L350.75,472.5 L351.75,476.3 L352.25,476.8 L353.00,473.6 L353.75,474.4 L354.25,473.9 L354.50,472.0 L355.25,462.7 L355.75,457.7 L356.00,455.8 L356.75,456.2 L357.50,453.1 L357.75,452.8 L358.25,450.8 L359.00,447.0 L359.75,441.2 L360.00,441.1 L360.50,443.7 L361.25,444.4 L362.00,445.8 L362.25,446.7 L362.50,448.1 L362.75,449.9 L363.50,453.4 L363.75,454.4 L364.25,452.9 L365.00,448.4 L365.25,448.0 L365.50,450.3 L365.75,452.8 L366.50,456.8 L366.75,458.0 L367.25,460.0 L368.00,464.7 L368.25,466.5 L368.50,466.9 L368.75,466.6 L369.50,463.9 L370.25,460.4 L371.00,457.5 L371.75,463.2 L372.25,468.3 L372.50,468.9 L373.25,463.1 L374.00,462.6 L374.75,459.5 L375.00,457.8 L375.50,456.2 L376.25,456.2 L377.75,456.9 L378.50,457.0 L379.00,456.9 L379.25,457.3 L380.00,456.4 L380.75,457.4 L381.50,459.7 L381.75,460.7 L383.00,471.2 L383.50,474.0 L384.50,477.0 L385.25,478.3 L386.00,478.7 L386.75,479.3 L387.00,479.4 L387.50,478.9 L388.25,478.2 L389.00,474.6 L389.75,476.6 L390.25,474.7 L390.50,473.9 L391.25,473.6 L392.00,473.7 L392.75,474.9 L393.00,474.4 L393.50,465.7 L393.75,461.3 L394.25,452.5 L395.00,440.0 L395.25,436.4 L395.50,436.1 L395.75,436.1 L396.50,433.9 L397.25,429.9 L397.50,429.4 L397.75,429.6 L398.75,435.8 L399.25,438.4 L399.50,440.5 L400.25,452.1 L400.50,455.2 L400.75,458.2 L401.00,458.0 L402.50,461.3 L403.25,461.5 L403.75,460.2 L404.00,459.5 L404.75,460.1 L405.50,461.0 L405.75,461.4 L406.25,462.4 L407.00,462.3 L407.75,462.6 L408.25,463.3 L409.25,467.3 L410.00,472.9 L410.25,473.9 L410.50,474.5 L410.75,474.8 L411.50,475.4 L412.25,477.8 L413.00,478.7 L413.75,476.3 L414.50,473.2 L414.75,471.8 L415.25,467.8 L416.00,463.0 L416.25,460.7 L416.50,460.8 L416.75,462.1 L417.50,466.7 L418.25,469.0 L418.50,469.3 L419.00,468.3 L419.75,465.3 L420.50,461.8 L421.00,460.7 L421.25,462.1 L422.00,464.3 L422.75,468.1 L423.00,469.8 L423.50,469.5 L424.25,466.8 L425.00,464.6 L425.75,460.4 L426.25,459.1 L426.50,459.8 L427.25,463.4 L428.00,467.6 L428.25,468.9 L428.50,468.2 L428.75,466.3 L429.50,463.6 L430.25,457.9 L430.50,458.2 L431.00,461.7 L431.50,466.8 L431.75,468.0 L432.50,465.0 L433.00,460.6 L433.25,461.6 L434.00,464.9 L434.75,469.2 L435.00,470.4 L435.50,450.4 L435.75,444.2 L436.25,444.4 L437.00,444.1 L437.75,442.6 L438.50,442.8 L439.25,439.7 L440.00,440.5 L440.50,440.7 L440.75,440.9 L441.50,439.8 L442.25,442.5 L442.50,445.0 L443.00,451.7 L443.50,457.6 L443.75,459.5 L444.50,461.3 L445.25,459.6 L446.00,459.3 L446.75,460.5 L447.50,457.4 L448.25,459.9 L448.50,459.6 L449.00,459.7 L449.75,463.0 L450.25,464.9 L450.50,464.3 L451.25,459.8 L451.50,457.8 L451.75,454.7 L452.00,449.4 L452.50,440.3 L452.75,436.2 L453.50,442.0 L454.00,447.0 L454.25,454.1 L454.50,462.2 L454.75,460.4 L455.00,452.0 L455.75,450.9 L456.50,452.1 L457.25,451.8 L457.50,451.3 L457.75,450.6 L458.00,449.4 L458.75,446.7 L459.50,446.4 L460.25,443.6 L460.50,438.1 L461.00,422.4 L461.25,414.9 L461.50,406.3 L461.75,400.9 L462.00,400.9 L462.25,401.8 L462.50,406.6 L463.25,419.8 L463.50,420.2 L464.75,420.5 L465.50,421.4 L465.75,419.9 L466.25,413.3 L466.50,410.6 L466.75,408.2 L467.00,408.9 L467.75,409.7 L468.25,411.0 L468.50,409.1 L469.25,400.5 L469.75,393.5 L470.00,390.9 L470.25,387.7 L470.50,367.7 L470.75,343.0 L471.00,333.0 L471.25,259.9 L471.50,194.7 L473.75,194.7 L474.00,325.0 L476.00,335.0 L476.25,339.2 L476.50,340.8 L477.00,342.7 L478.25,341.4 L478.50,344.2 L479.25,357.0 L479.50,365.3 L479.75,373.8 L480.00,381.2 L481.00,398.7 L482.25,396.2 L482.50,390.3 L483.50,356.3 L483.75,350.6 L487.00,348.0 L487.75,379.1 L488.00,388.7 L488.25,397.5 L488.75,417.5 L489.00,420.0 L489.25,421.8 L489.50,424.8 L490.00,430.0 L490.25,428.0 L491.00,421.2 L491.75,415.6 L492.00,413.7 L492.50,410.6 L493.00,409.3 L493.25,411.0 L493.75,417.4 L494.75,427.9 L495.00,431.2 L495.50,428.0 L496.25,421.4 L496.75,417.7 L497.00,416.7 L497.75,415.4 L498.00,415.9 L498.25,417.2 L498.50,419.3 L499.00,421.1 L499.25,422.1 L500.00,429.0 L500.75,420.7 L501.50,413.4 L501.75,411.8 L502.00,410.1 L502.25,408.2 L503.00,400.7 L503.25,399.7 L503.75,400.0 L504.25,398.4 L504.50,399.3 L505.00,407.7 L505.25,408.3 L506.00,408.0 L506.75,415.4 L507.00,419.0 L507.50,427.4 L508.25,419.4 L508.50,416.2 L509.00,415.4 L509.25,416.1 L509.50,418.3 L509.75,421.9 L510.00,424.8 L510.50,426.4 L510.75,426.8 L511.25,426.1 L511.75,424.3 L512.00,423.2 L512.75,421.2 L513.00,420.1 L513.25,419.4 L513.50,419.2 L514.25,420.0 L514.50,422.3 L515.00,430.7 L515.50,432.2 L515.75,422.1 L516.00,400.0 L516.50,398.3 L517.25,397.9 L517.50,398.0 L517.75,418.4 L518.00,428.9 L518.50,430.7 L519.25,423.2 L519.50,415.4 L520.00,387.2 L520.25,386.6 L521.00,387.2 L521.75,387.1 L522.50,388.0 L523.00,399.0 L523.25,401.4 L524.00,400.9 L524.75,402.5 L525.00,402.4 L525.50,407.0 L526.00,411.9 L526.25,416.1 L526.75,425.7 L527.00,429.4 L527.50,433.2 L527.75,431.4 L528.50,424.3 L529.25,426.3 L529.50,428.2 L530.00,434.7 L530.25,435.5 L530.50,435.9 L530.75,436.0 L531.50,433.1 L532.25,435.7 L532.50,435.4 L533.00,435.4 L533.75,440.0 L534.25,441.5 L535.25,440.9 L535.50,440.1 L535.75,439.8 L536.00,440.6 L536.75,442.3 L537.50,447.8 L537.75,447.4 L538.25,442.4 L539.00,438.0 L539.50,432.1 L539.75,429.9 L540.50,431.6 L541.25,433.5 L541.50,433.2 L541.75,432.7 L542.00,431.7 L542.75,432.2 L543.00,431.9 L544.25,437.5 L545.00,441.2 L545.75,443.2 L546.50,445.9 L547.00,448.4 L548.00,445.2 L548.75,441.3 L549.50,440.6 L549.75,439.6 L550.25,439.7 L551.00,441.9 L551.50,445.3 L551.75,446.8 L552.50,447.1 L553.25,446.1 L554.00,447.2 L554.25,447.9 L554.50,448.4 L554.75,448.8 L555.50,447.8 L555.75,446.7 L556.25,442.3 L557.00,437.4 L557.50,434.6 L557.75,434.1 L558.50,434.0 L559.00,437.9 L559.25,438.4 L560.00,435.5 L560.75,432.8 L561.00,433.0 L561.50,437.6 L562.25,440.3 L563.00,446.4 L563.75,445.9 L564.50,443.9 L565.00,444.6 L565.25,446.2 L566.00,448.6 L566.75,449.9 L567.50,452.9 L567.75,453.7 L568.25,454.8 L569.00,458.5 L569.50,459.0 L569.75,458.6 L570.50,456.6 L571.25,454.4 L572.00,451.4 L572.75,445.8 L573.00,445.0 L573.50,449.7 L574.25,456.4 L574.50,456.9 L575.00,456.3 L576.25,455.2 L576.50,453.6 L577.25,447.3 L578.00,438.6 L578.25,436.2 L578.50,432.3 L579.00,422.9 L579.50,423.0 L579.75,422.7 L580.00,425.7 L580.25,429.5 L581.00,443.1 L581.75,445.1 L582.50,449.5 L583.00,451.1 L583.25,451.3 L584.00,450.4 L584.50,451.0 L584.75,449.2 L585.00,446.4 L585.50,446.7 L586.25,444.8 L586.50,443.8 L586.75,444.1 L587.00,445.4 L587.75,452.8 L588.25,456.0 L588.50,456.5 L589.25,458.5 L590.00,459.1 L590.25,459.6 L590.50,460.5 L590.75,461.7 L591.50,464.0 L592.25,467.7 L592.50,466.4 L593.00,462.2 L593.75,458.1 L594.25,454.7 L594.50,455.2 L595.25,463.4 L595.50,464.5 L595.75,465.1 L596.00,464.8 L596.75,467.3 L597.50,468.4 L597.75,469.4 L598.25,472.2 L599.00,474.1 L599.50,475.7 L599.75,476.0 L600.50,475.3 L601.25,472.7 L601.50,472.5 L601.75,471.6 L602.00,469.2 L602.75,462.4 L603.00,459.1 L603.50,458.4 L604.25,462.2 L605.00,461.4 L605.75,459.2 L606.25,459.3 L606.50,457.5 L607.25,445.1 L607.50,442.0 L607.75,439.9 L608.00,440.2 L608.75,442.5 L609.25,441.2 L609.50,443.2 L610.25,465.2 L610.50,467.0 L611.00,466.7 L611.75,469.6 L612.25,470.9 L612.50,470.5 L613.25,466.1 L614.00,463.4 L614.75,461.2 L615.00,460.2 L615.50,461.6 L616.25,462.2 L617.00,465.0 L617.75,469.9 L618.50,470.8 L619.00,473.8 L619.25,468.0 L620.00,447.4 L620.25,441.4 L620.50,439.5 L620.75,439.8 L622.25,439.7 L622.50,439.8 L622.75,443.2 L623.50,459.9 L623.75,463.6 L624.50,463.3 L625.00,463.5 L626.00,465.4 L626.75,464.7 L627.50,467.5 L627.75,467.3 L628.25,465.9 L629.00,463.9 L629.75,462.5 L630.25,463.0 L630.50,463.7 L631.25,464.2 L632.00,463.4 L632.75,466.0 L633.00,465.7 L633.50,463.4 L634.25,462.7 L635.00,461.6 L635.75,458.4 L636.25,455.1 L636.50,455.3 L637.25,459.9 L638.00,466.5 L638.25,467.2 L638.75,467.8 L639.50,467.9 L640.25,466.7 L641.00,467.6 L642.50,467.8 L643.25,466.2 L643.75,466.8 L644.00,467.3 L644.75,465.7 L645.50,465.6 L646.25,466.0 L646.50,464.3 L647.00,458.7 L647.50,452.6 L647.75,450.5 L648.50,448.8 L649.25,449.2 L650.00,447.0 L650.25,447.3 L650.50,446.2 L650.75,444.4 L651.50,437.7 L652.25,431.2 L652.50,430.0 L653.00,429.0 L653.75,429.6 L654.25,429.2 L654.50,432.3 L655.25,446.1 L655.50,450.8 L655.75,454.1 L656.00,454.6 L656.75,454.6 L657.50,456.9 L657.75,457.7 L658.25,462.6 L659.00,471.9 L659.75,470.4 L660.50,471.3 L661.25,469.7 L661.50,469.6 L661.75,469.3 L662.00,468.7 L662.75,469.9 L663.50,466.6 L664.25,464.0 L664.50,464.4 L665.00,465.4 L665.75,466.0 L666.50,465.1 L667.00,465.3 L667.25,465.4 L668.00,464.6 L668.75,462.5 L669.50,461.1 L670.25,460.0 L670.50,459.7 L671.00,458.9 L671.75,458.2 L672.50,457.2 L672.75,455.8 L673.25,456.1 L674.00,462.2 L674.50,464.4 L674.75,465.2 L675.50,466.6 L676.25,466.5 L677.00,467.9 L677.75,467.6 L678.50,464.8 L679.00,462.5 L679.25,458.7 L679.75,451.5 L680.00,448.6 L680.75,445.4 L681.25,445.9 L681.50,448.7 L682.25,454.0 L683.00,460.2 L683.75,454.2 L684.50,447.5 L685.00,444.7 L685.25,444.8 L686.00,441.8 L686.50,442.2 L686.75,445.2 L687.50,456.9 L687.75,461.4 L688.00,464.8 L688.25,465.1 L689.00,466.8 L689.75,465.5 L690.50,467.2 L691.00,466.6 L692.00,467.1 L692.75,468.3 L693.50,468.8 L693.75,469.8 L694.25,471.5 L695.00,473.1 L695.75,471.9 L696.25,472.9 L696.50,473.6 L697.25,476.7 L698.00,476.3 L698.25,477.4 L698.50,475.9 L698.75,473.0 L699.25,465.9 L699.50,464.1 L700.25,466.2 L701.00,469.8 L701.75,462.7 L702.25,460.2 L702.50,459.9 L703.25,460.2 L704.00,458.0 L704.25,457.7 L704.50,456.6 L704.75,455.1 L705.50,451.3 L705.75,441.0 L706.00,354.0 L706.25,339.8 L706.50,334.2 L706.75,330.7 L707.00,311.0 L709.50,311.0 L710.50,330.0 L710.75,354.0 L711.75,354.0 L712.00,339.0 L714.00,339.0 L714.25,348.0 L714.75,348.0 L715.00,399.1 L715.50,399.7 L715.75,407.5 L716.00,417.9 L716.50,425.0 L716.75,426.7 L717.50,431.1 L718.00,432.6 L718.25,432.4 L719.00,434.7 L719.25,435.3 L719.50,438.1 L719.75,442.0 L720.50,450.3 L720.75,453.0 L721.25,454.4 L722.00,454.8 L722.50,456.6 L722.75,457.4 L723.50,459.3 L724.25,458.3 L725.00,457.6 L725.25,457.8 L725.75,458.5 L726.50,460.2 L727.25,461.7 L728.00,461.2 L728.75,458.2 L729.50,456.1 L729.75,454.8 L730.25,453.0 L731.00,455.2 L731.50,453.8 L731.75,452.4 L732.50,447.6 L733.25,444.7 L733.50,444.1 L734.00,444.2 L734.50,445.2 L734.75,445.0 L735.50,440.1 L736.00,437.4 L736.25,435.6 L737.00,426.9 L737.50,423.1 L737.75,424.4 L738.50,433.1 L738.75,437.9 L739.25,452.8 L739.50,459.5 L739.75,461.9 L740.00,461.5 L740.75,463.5 L741.25,463.9 L741.50,463.5 L742.25,459.4 L742.75,458.0 L743.00,457.8 L743.75,461.1 L744.50,464.2 L744.75,464.4 L745.25,464.9 L746.00,469.9 L746.50,472.2 L746.75,473.2 L747.50,474.6 L748.25,475.0 L748.50,475.9 L748.75,477.3 L749.00,479.7 L749.75,484.8 L750.00,486.4 L750.50,481.7 L751.25,476.0 L751.50,474.5 L752.00,471.9 L752.75,466.7 L753.00,464.9 L753.50,458.9 L754.00,452.1 L754.25,452.1 L755.00,450.9 L755.25,451.2 L755.50,453.1 L755.75,455.8 L756.50,464.6 L756.75,466.2 L757.25,467.1 L758.00,468.9 L758.50,472.1 L758.75,473.2 L759.50,469.6 L760.25,467.2 L760.50,466.7 L760.75,466.7 L761.00,467.7 L761.75,469.3 L762.00,470.0 L762.50,475.4 L763.25,484.9 L763.50,486.0 L764.00,486.3 L764.75,485.0 L765.50,484.2 L766.00,484.9 L766.25,483.8 L767.00,479.0 L767.75,474.6 L768.00,472.9 L768.50,466.8 L768.75,464.5 L769.00,463.3 L769.25,465.2 L770.00,467.5 L770.50,469.8 L770.75,470.7 L771.50,474.9 L772.25,477.0 L772.50,477.1 L772.75,477.1 L773.00,476.8 L773.75,477.4 L774.50,479.4 L775.25,481.3 L775.50,480.5 L776.00,478.9 L776.75,479.4 L777.50,478.2 L778.00,478.9 L778.25,479.6 L779.00,479.1 L779.75,479.2 L780.50,480.4 L780.75,480.2 L781.25,478.9 L782.00,476.4 L782.50,475.8 L782.75,473.4 L783.50,454.5 L784.00,440.5 L784.25,440.4 L785.00,439.8 L785.50,440.3 L785.75,440.8 L786.50,453.1 L786.75,456.5 L787.25,457.1 L788.00,458.6 L788.50,457.1 L788.75,456.5 L789.50,460.5 L790.00,461.3 L791.00,457.3 L791.50,454.9 L791.75,454.6 L792.50,455.4 L793.25,457.8 L793.50,455.8 L794.00,448.8 L794.25,444.4 L794.50,440.0 L794.75,433.0 L795.00,420.0 L795.25,333.3 L795.50,297.5 L795.75,258.7 L796.00,251.0 L798.00,251.0 L798.00,313.0 L797.50,313.0 L797.25,326.5 L797.00,396.7 L796.75,429.5 L795.75,459.5 L795.50,464.1 L794.75,477.2 L794.50,479.8 L794.25,482.1 L794.00,483.5 L793.25,486.7 L792.75,490.9 L792.50,491.2 L791.75,489.1 L791.00,485.4 L790.25,481.2 L790.00,479.9 L789.50,479.0 L788.75,478.0 L788.00,478.1 L787.25,475.7 L786.50,471.5 L786.00,470.1 L785.75,470.7 L785.00,471.4 L784.25,471.6 L784.00,472.4 L783.50,479.0 L782.75,486.6 L782.50,487.9 L782.00,489.2 L781.25,491.3 L780.75,492.6 L780.50,493.0 L779.75,492.4 L779.00,495.4 L778.25,494.7 L778.00,494.9 L777.50,493.9 L776.75,493.1 L776.00,493.8 L775.50,492.3 L775.25,491.7 L774.50,492.7 L773.75,493.5 L773.00,496.2 L772.75,496.1 L772.50,495.5 L772.25,494.8 L771.50,493.9 L770.75,494.1 L770.00,493.9 L769.25,491.5 L768.50,492.9 L768.00,492.1 L767.75,492.7 L767.00,496.3 L766.25,498.3 L766.00,498.8 L765.75,498.4 L764.75,495.9 L764.00,493.2 L763.25,490.1 L762.50,490.0 L761.75,488.9 L761.00,485.0 L760.25,482.9 L760.00,482.6 L758.75,482.9 L758.00,482.7 L757.25,481.1 L756.50,480.7 L755.75,478.2 L755.50,478.3 L755.25,478.5 L755.00,479.3 L754.25,480.1 L753.50,481.5 L753.25,482.2 L752.75,483.9 L752.00,487.2 L751.50,487.8 L751.25,488.5 L750.50,492.9 L750.00,497.2 L749.75,498.8 L749.50,497.8 L749.00,494.2 L748.25,487.8 L748.00,485.8 L747.50,483.4 L746.75,481.6 L746.00,480.2 L745.25,482.3 L744.50,484.8 L744.00,485.6 L743.75,484.3 L743.00,483.7 L742.25,479.0 L741.50,476.5 L741.25,475.8 L740.75,474.7 L740.00,474.7 L739.25,473.5 L738.75,470.9 L738.50,467.3 L737.50,450.9 L737.25,448.5 L737.00,449.4 L736.25,455.2 L736.00,455.8 L735.50,457.7 L734.75,461.2 L734.00,466.7 L733.25,466.9 L732.00,470.1 L731.75,469.6 L731.00,470.0 L730.00,468.3 L729.50,470.9 L728.50,476.6 L728.25,477.0 L728.00,476.6 L726.50,473.2 L725.75,470.0 L725.50,470.4 L725.25,471.2 L725.00,472.6 L724.25,474.5 L723.50,473.7 L722.50,476.2 L722.00,476.7 L721.25,473.8 L720.50,471.3 L719.75,471.5 L719.50,470.8 L719.25,469.6 L719.00,467.5 L718.25,460.8 L717.50,455.8 L717.25,453.9 L716.75,450.4 L716.50,447.2 L715.50,439.9 L715.25,430.1 L715.00,422.7 L714.00,411.3 L713.75,409.1 L712.50,411.0 L711.25,407.4 L711.00,395.0 L709.00,395.0 L708.50,369.0 L708.25,369.0 L708.00,425.0 L707.00,446.7 L706.00,471.7 L705.75,479.1 L705.50,481.4 L704.75,478.8 L704.00,478.8 L703.25,478.6 L702.25,478.9 L701.75,479.9 L701.00,482.8 L700.25,482.3 L699.50,483.9 L698.75,485.9 L698.00,487.3 L697.25,490.4 L697.00,490.6 L696.50,489.0 L695.75,488.1 L695.00,487.3 L694.25,485.2 L693.50,483.9 L692.75,479.8 L692.00,479.6 L691.75,479.3 L691.50,479.3 L691.25,479.5 L690.50,476.6 L689.75,478.0 L689.00,477.5 L688.50,476.6 L688.25,477.0 L687.50,486.5 L687.00,490.5 L686.75,489.1 L686.00,487.4 L685.25,484.4 L684.50,482.2 L683.75,478.3 L683.00,476.8 L682.25,473.9 L681.50,470.7 L681.00,469.6 L680.75,471.4 L680.00,474.9 L679.25,480.1 L679.00,481.9 L678.50,483.9 L677.75,485.1 L677.00,485.5 L676.50,488.0 L676.25,488.7 L675.50,485.4 L674.75,479.7 L674.00,477.2 L673.25,474.1 L673.00,472.6 L672.50,472.0 L671.75,474.5 L671.00,473.5 L670.50,475.0 L670.25,476.2 L669.50,479.2 L668.75,484.0 L668.50,484.9 L668.25,485.3 L668.00,484.3 L666.50,484.0 L665.75,482.0 L665.00,480.9 L664.25,480.4 L663.50,479.1 L662.75,478.4 L662.50,478.9 L662.25,479.6 L662.00,480.8 L661.25,480.0 L660.50,481.6 L659.75,483.5 L659.50,483.0 L659.00,480.7 L657.50,471.4 L656.75,468.3 L656.00,463.2 L655.75,461.8 L655.50,461.0 L655.25,460.5 L654.50,459.4 L653.75,457.6 L653.50,458.7 L653.00,462.0 L652.25,463.9 L651.75,466.3 L651.50,466.1 L650.75,464.1 L650.00,460.1 L649.75,459.6 L649.50,460.3 L649.25,461.6 L648.50,465.1 L647.75,465.7 L647.50,466.9 L647.00,469.8 L646.25,475.8 L645.75,478.0 L645.50,478.1 L644.75,478.6 L644.00,476.3 L643.75,476.2 L643.50,476.8 L643.25,477.9 L642.50,482.0 L641.75,484.2 L641.00,487.0 L640.25,486.4 L639.50,481.7 L638.75,480.5 L638.00,475.7 L637.25,472.0 L637.00,471.0 L636.50,476.0 L635.75,483.1 L635.50,486.0 L635.25,487.0 L635.00,486.7 L634.25,484.4 L633.50,479.6 L632.75,478.8 L632.50,477.9 L632.25,477.2 L632.00,477.1 L631.25,476.5 L630.50,476.7 L629.75,478.0 L629.00,477.3 L628.50,476.3 L628.25,476.1 L627.50,480.5 L626.50,484.1 L626.25,484.7 L625.25,484.0 L624.50,483.1 L623.75,481.9 L623.50,481.1 L623.00,479.2 L622.25,477.2 L621.50,477.7 L620.75,475.5 L620.50,474.1 L620.25,473.3 L620.00,473.5 L619.25,477.5 L618.50,481.2 L618.25,482.2 L617.75,482.5 L617.00,482.0 L616.25,480.3 L615.50,480.7 L615.00,480.4 L614.75,480.9 L614.00,480.7 L613.25,484.6 L612.50,483.7 L612.25,483.7 L611.75,481.9 L611.00,479.9 L610.25,475.5 L609.75,473.5 L609.50,473.2 L608.75,472.1 L608.00,472.8 L607.25,471.5 L607.00,471.2 L606.50,473.1 L605.75,478.3 L605.00,480.0 L604.25,479.0 L603.50,478.9 L602.75,479.2 L602.50,478.8 L602.25,478.9 L602.00,480.3 L601.25,485.7 L600.50,488.2 L600.25,489.3 L599.00,488.3 L598.25,487.6 L597.50,484.3 L597.00,484.6 L596.75,484.6 L596.00,481.9 L595.25,477.7 L595.00,478.0 L594.50,480.1 L593.75,478.6 L593.00,481.1 L592.25,479.6 L591.75,480.9 L591.50,480.9 L590.75,477.6 L590.00,473.2 L589.25,471.3 L588.50,470.8 L587.75,467.2 L587.50,466.5 L586.25,463.5 L585.50,465.0 L585.00,462.5 L584.75,465.7 L584.50,468.2 L584.00,467.3 L583.25,465.2 L582.50,463.4 L581.75,459.7 L581.50,459.8 L581.00,460.5 L580.25,461.8 L579.75,461.3 L579.50,461.6 L578.75,465.0 L578.00,467.1 L577.25,469.1 L576.50,473.0 L576.25,473.3 L575.75,472.2 L575.00,470.9 L574.25,470.9 L573.75,470.1 L573.50,470.9 L572.75,477.5 L572.25,479.2 L572.00,479.5 L571.25,478.1 L570.50,477.8 L569.75,476.6 L569.00,474.5 L568.50,473.6 L568.25,472.8 L567.50,469.8 L566.75,465.5 L566.00,462.9 L565.75,460.8 L565.50,460.9 L565.25,462.0 L564.50,470.5 L563.75,476.4 L563.50,475.0 L563.00,469.5 L562.25,466.0 L561.75,461.5 L561.50,460.2 L560.75,457.5 L560.00,455.1 L559.75,455.2 L559.50,456.3 L559.25,458.0 L558.50,462.5 L557.75,465.5 L557.00,467.6 L556.25,465.4 L555.50,464.1 L555.00,463.7 L554.75,464.1 L554.00,464.3 L553.25,466.8 L552.50,466.9 L552.25,466.6 L551.75,465.1 L551.00,463.4 L550.25,464.0 L549.50,462.5 L549.00,462.4 L548.75,464.1 L548.00,466.9 L547.25,471.2 L547.00,472.8 L546.50,471.6 L545.75,466.3 L545.00,463.9 L544.50,461.9 L544.25,460.7 L543.50,457.6 L542.75,454.6 L542.50,454.1 L542.25,454.1 L542.00,455.0 L541.25,454.5 L540.25,456.6 L539.75,459.3 L539.00,464.8 L538.50,469.2 L538.25,470.5 L537.50,467.2 L536.75,462.5 L536.00,459.9 L535.25,457.6 L535.00,455.9 L534.50,456.1 L533.75,459.7 L533.00,461.8 L532.25,460.0 L531.50,459.3 L530.75,458.9 L530.50,457.7 L530.25,456.1 L530.00,453.7 L529.25,451.3 L529.00,449.4 L528.50,448.3 L527.75,444.6 L527.00,445.1 L526.50,443.5 L526.25,442.0 L525.50,433.0 L524.75,424.4 L524.50,422.4 L524.25,421.3 L524.00,422.1 L523.25,422.3 L522.50,422.6 L521.75,421.6 L521.50,424.3 L521.00,432.0 L520.50,439.5 L520.25,442.4 L519.50,446.5 L518.75,448.7 L518.00,454.1 L517.75,452.8 L517.25,448.7 L516.25,444.9 L515.75,445.1 L515.00,446.1 L514.25,445.6 L513.75,446.4 L513.50,446.5 L512.75,443.5 L512.00,442.9 L511.25,441.1 L510.50,441.7 L509.75,441.1 L509.50,441.0 L509.00,441.9 L508.25,446.7 L507.50,450.3 L507.00,452.1 L506.75,450.6 L506.00,448.8 L505.25,443.8 L504.50,440.8 L504.25,441.2 L503.75,446.9 L503.00,451.9 L502.50,457.8 L502.25,459.2 L501.50,451.5 L501.00,447.5 L500.75,447.7 L500.00,449.7 L499.25,450.8 L498.50,450.4 L497.75,449.2 L497.50,450.9 L497.00,455.2 L496.25,458.1 L495.50,459.5 L495.25,459.4 L494.75,456.9 L494.00,450.5 L493.75,449.1 L493.50,448.6 L493.25,448.6 L492.50,448.2 L491.75,446.5 L491.00,443.9 L490.25,442.2 L489.50,441.7 L489.25,439.8 L489.00,438.3 L488.50,436.6 L488.25,431.0 L488.00,419.3 L487.00,409.3 L485.50,393.1 L485.25,393.0 L483.75,403.4 L483.50,405.7 L482.25,418.2 L482.00,420.4 L481.50,423.8 L481.25,425.2 L480.50,421.0 L480.25,420.0 L479.75,420.0 L479.50,418.3 L478.50,408.3 L478.25,406.9 L476.50,411.6 L476.25,410.4 L474.50,377.8 L474.25,374.2 L473.00,366.7 L471.75,385.4 L471.50,390.8 L470.50,415.8 L470.25,420.8 L470.00,423.3 L469.75,425.2 L469.50,427.9 L469.25,430.8 L468.50,440.7 L468.25,442.3 L467.75,439.9 L467.00,436.8 L466.50,433.7 L466.25,433.1 L465.50,439.8 L464.75,441.5 L464.00,447.9 L463.75,448.8 L463.50,448.1 L463.25,446.6 L462.50,446.3 L461.75,443.8 L461.00,439.5 L460.50,458.0 L460.25,464.2 L459.50,468.7 L458.75,469.1 L457.75,470.8 L457.50,470.5 L457.25,470.0 L456.50,467.7 L455.75,466.7 L455.00,466.3 L454.75,467.1 L454.50,467.4 L454.25,466.7 L453.50,465.5 L453.00,463.9 L452.75,465.5 L452.00,470.2 L451.25,477.9 L451.00,479.9 L450.50,479.1 L449.75,476.9 L449.00,473.4 L448.50,474.2 L448.25,475.2 L447.50,479.8 L446.75,482.3 L446.50,484.4 L446.25,485.5 L446.00,484.3 L445.25,478.7 L445.00,475.9 L444.50,473.7 L443.75,475.2 L443.00,474.0 L442.25,466.7 L441.50,462.9 L441.00,459.2 L440.75,459.1 L440.00,459.4 L439.25,458.0 L438.50,459.7 L438.25,459.4 L438.00,459.6 L437.00,468.0 L436.50,474.8 L436.25,477.9 L435.50,480.3 L434.75,486.0 L434.50,488.4 L434.25,490.0 L434.00,490.0 L433.25,485.6 L432.50,486.0 L432.25,485.3 L431.75,484.9 L430.50,485.8 L430.25,486.7 L429.50,494.8 L429.00,498.1 L428.75,494.7 L428.00,488.8 L427.75,485.2 L427.50,482.7 L427.25,480.8 L426.50,478.4 L426.25,478.2 L425.75,479.4 L425.00,478.2 L424.25,480.7 L423.50,479.8 L422.75,482.6 L422.50,482.3 L422.25,481.7 L422.00,480.5 L420.50,477.3 L420.25,477.4 L419.75,480.4 L419.00,482.0 L418.50,485.0 L418.25,485.6 L417.50,480.5 L417.00,478.6 L416.75,481.3 L415.50,490.8 L415.25,492.5 L414.50,492.9 L413.75,490.1 L413.00,490.1 L412.25,486.3 L411.50,486.1 L410.75,486.2 L410.50,485.5 L410.25,485.1 L410.00,485.0 L409.25,485.3 L408.50,484.9 L407.75,483.9 L407.00,486.2 L406.25,483.9 L405.50,481.1 L404.75,478.0 L404.50,477.3 L404.25,476.7 L404.00,476.5 L403.25,474.0 L402.50,473.6 L401.75,470.4 L401.00,472.1 L400.25,467.8 L399.75,465.7 L399.50,463.9 L398.75,457.6 L398.25,452.9 L398.00,451.1 L397.25,451.3 L396.50,454.4 L396.25,454.6 L395.75,459.0 L395.00,469.5 L394.50,475.2 L394.25,477.5 L393.50,482.3 L392.75,483.2 L392.50,485.0 L392.25,486.2 L392.00,486.3 L391.25,484.9 L390.50,481.7 L390.25,481.6 L389.75,483.4 L388.50,488.3 L388.25,488.9 L387.50,488.9 L386.50,487.4 L386.25,487.5 L384.50,493.4 L384.25,492.9 L383.75,488.0 L383.00,481.3 L382.50,478.1 L382.25,477.0 L381.50,473.1 L380.75,470.0 L380.00,467.0 L379.75,466.6 L379.50,466.9 L379.25,467.6 L378.50,467.8 L377.75,468.7 L377.00,469.7 L375.50,471.9 L375.00,472.9 L374.75,474.0 L374.00,478.0 L373.25,478.8 L373.00,480.2 L372.50,480.3 L371.75,479.8 L371.00,479.8 L370.25,481.2 L369.50,482.3 L369.00,484.9 L368.75,485.0 L368.00,484.5 L367.25,482.2 L367.00,482.2 L366.50,480.0 L365.75,474.4 L365.00,470.1 L364.25,469.5 L363.50,471.0 L363.00,469.0 L362.75,467.6 L362.00,466.1 L361.25,466.4 L361.00,465.6 L360.50,467.0 L359.75,468.2 L359.00,470.9 L358.25,471.4 L357.50,467.7 L357.00,467.4 L356.75,470.2 L356.00,478.1 L355.25,484.0 L355.00,487.2 L354.50,488.7 L353.75,487.6 L353.00,487.6 L352.50,488.8 L352.25,489.1 L351.50,485.5 L350.75,483.5 L350.00,482.0 L349.75,482.4 L349.50,483.5 L349.25,484.9 L348.50,483.9 L347.75,488.1 L347.00,487.2 L346.25,492.3 L345.50,492.7 L345.00,495.3 L344.75,494.6 L344.00,490.2 L343.00,486.3 L342.50,485.9 L341.75,483.9 L341.00,483.4 L340.25,481.7 L339.50,478.8 L338.75,478.6 L338.00,474.9 L337.25,475.8 L336.50,472.4 L335.75,470.0 L335.50,470.4 L334.25,475.8 L333.50,481.7 L333.25,482.2 L332.75,480.1 L332.00,479.8 L331.75,478.8 L331.50,477.1 L331.25,475.1 L330.50,472.0 L329.75,467.3 L329.00,463.8 L328.25,463.1 L327.50,465.9 L327.00,466.9 L326.75,469.3 L326.00,476.6 L325.25,484.1 L325.00,485.6 L324.50,483.9 L324.25,484.6 L323.75,485.7 L323.00,484.9 L322.25,485.6 L321.75,485.2 L321.50,486.0 L320.75,488.2 L320.00,495.0 L319.75,495.8 L319.50,494.8 L319.25,492.9 L318.50,490.5 L317.75,486.5 L317.00,480.9 L316.25,480.3 L315.50,481.0 L315.00,480.6 L314.00,485.0 L313.25,488.0 L312.50,491.1 L312.25,492.5 L311.75,493.3 L311.00,491.5 L310.25,489.5 L309.50,488.5 L309.00,488.7 L308.75,488.8 L308.00,489.6 L307.25,485.8 L307.00,486.0 L306.50,488.6 L305.75,489.3 L305.00,491.2 L304.50,494.7 L304.25,495.8 L303.50,489.8 L302.75,489.1 L302.00,484.6 L301.75,483.5 L301.50,483.7 L301.25,484.5 L300.50,488.2 L299.75,491.1 L299.50,490.3 L299.00,487.7 L298.25,488.2 L297.50,483.8 L297.00,482.6 L296.75,483.8 L296.00,489.7 L295.25,492.0 L294.50,496.0 L294.25,496.3 L293.75,495.7 L292.25,496.6 L291.75,498.3 L291.50,497.4 L290.75,488.2 L290.00,480.5 L289.75,478.1 L289.50,477.9 L289.25,478.8 L288.50,484.1 L287.75,487.3 L287.00,490.2 L286.25,484.9 L285.50,480.9 L284.75,479.2 L284.50,478.2 L284.25,477.6 L284.00,477.6 L283.25,477.8 L282.50,476.7 L281.75,476.0 L281.50,477.4 L281.00,481.0 L280.25,484.0 L279.75,487.0 L279.50,487.0 L278.75,483.9 L278.00,481.6 L277.25,476.0 L276.50,474.1 L276.25,473.6 L275.75,474.4 L275.00,474.0 L274.25,474.7 L273.50,478.0 L273.00,477.6 L272.75,475.9 L272.00,473.0 L271.75,471.7 L271.50,471.3 L271.25,471.3 L270.50,469.3 L269.75,469.6 L269.00,469.1 L268.25,463.3 L267.50,456.4 L267.00,453.0 L266.75,453.5 L266.00,455.0 L265.25,455.2 L264.50,454.5 L264.25,455.7 L263.75,463.5 L263.00,478.2 L262.25,479.8 L261.50,478.8 L260.75,479.3 L260.00,482.4 L259.75,482.8 L259.50,482.7 L259.25,482.5 L258.50,481.4 L257.75,479.2 L257.00,480.5 L256.25,478.8 L255.50,478.5 L254.00,477.9 L253.25,477.0 L252.50,476.5 L252.25,475.8 L251.75,474.6 L251.00,476.1 L250.25,475.6 L249.75,475.6 L249.50,474.7 L248.75,469.3 L248.00,466.4 L247.75,465.7 L247.50,465.6 L247.25,466.0 L246.50,465.1 L245.75,463.7 L245.00,462.6 L244.25,465.5 L243.50,463.8 L242.75,465.1 L242.00,467.2 L241.75,466.8 L241.50,466.0 L241.25,465.0 L240.50,465.1 L239.75,463.7 L239.00,462.6 L237.50,460.4 L236.75,458.9 L236.00,455.6 L235.25,455.9 L235.00,455.7 L234.50,457.3 L233.75,456.3 L233.00,460.9 L232.25,456.4 L231.50,456.1 L231.00,452.8 L230.75,445.7 L230.50,439.7 L230.25,435.6 L230.00,435.5 L229.25,434.6 L228.50,435.0 L227.75,433.9 L227.00,433.8 L226.25,435.0 L225.50,434.5 L224.75,434.5 L224.00,438.1 L223.75,438.4 L223.25,439.2 L222.50,441.1 L221.75,441.8 L221.50,440.9 L221.00,438.2 L220.25,437.4 L219.50,434.3 L218.75,432.3 L218.50,432.2 L218.25,432.3 L218.00,432.5 L217.25,430.1 L217.00,430.0 L215.75,428.1 L215.50,410.0 L215.00,385.0 L213.75,372.5 L212.50,357.5 L210.00,347.5 L208.25,336.0 L208.00,333.3 L207.25,320.8 L207.00,300.0 L206.00,300.0 L205.75,361.7 L205.50,374.6 L205.00,376.0 L201.50,376.0 L200.75,362.7 L200.50,359.3 L198.75,347.5 L197.50,335.0 L197.00,322.5 L196.75,319.7 L196.00,318.2 L195.75,297.0 L195.50,290.0 L195.25,290.0 L195.00,318.0 L193.75,320.0 L192.50,335.0 L191.25,397.5 L191.00,430.0 L190.50,428.5 L190.25,428.6 L189.00,437.3 L188.75,436.9 L188.00,439.7 L186.50,445.9 L185.75,445.7 L185.00,448.5 L184.25,452.2 L183.50,456.4 L182.50,461.5 L182.25,462.5 L182.00,462.9 L181.25,463.2 L180.50,463.6 L179.75,462.3 L179.00,464.2 L178.50,465.6 L178.25,466.7 L177.50,470.2 L176.75,472.4 L176.00,477.3 L175.75,479.0 L175.50,480.1 L175.25,480.8 L174.50,479.9 L173.75,481.8 L173.00,482.1 L172.25,483.3 L171.75,484.1 L171.50,483.5 L170.75,479.9 L170.50,478.5 L170.25,477.8 L170.00,478.5 L169.25,481.3 L168.50,483.2 L168.25,484.0 L167.75,483.3 L167.00,480.0 L166.50,477.0 L166.25,476.0 L165.50,476.6 L164.75,480.4 L164.00,479.2 L163.75,479.6 L163.50,479.6 L163.25,479.3 L162.50,479.1 L161.75,477.7 L161.50,477.7 L161.00,479.0 L160.25,483.1 L159.75,486.2 L159.50,487.5 L158.75,490.9 L158.00,491.3 L157.75,492.8 L157.50,493.2 L157.25,493.0 L156.50,489.7 L155.75,486.8 L155.00,483.8 L154.25,484.4 L153.50,481.6 L152.75,481.4 L152.00,481.9 L151.75,481.0 L151.50,481.0 L151.25,481.4 L150.50,485.3 L149.50,487.8 L149.25,488.3 L149.00,487.0 L148.25,486.2 L147.50,483.0 L146.75,480.5 L145.75,476.4 L145.50,477.0 L145.25,478.6 L144.50,483.8 L143.75,489.7 L143.50,489.9 L143.00,488.9 L142.25,484.4 L141.75,484.4 L141.50,485.4 L140.75,486.1 L140.00,490.6 L139.75,490.8 L139.25,490.9 L138.50,493.9 L137.75,496.8 L137.00,498.6 L136.25,494.7 L135.75,492.5 L135.50,490.7 L134.75,485.6 L134.00,480.4 L133.75,477.8 L133.50,476.9 L133.25,476.9 L132.50,479.1 L131.75,482.6 L131.50,483.9 L131.00,487.4 L130.25,492.9 L129.75,498.0 L129.50,498.8 L129.25,498.5 L128.75,497.1 L128.00,495.7 L127.25,497.1 L127.00,496.0 L126.50,493.5 L125.75,492.6 L125.00,492.7 L124.25,491.1 L123.75,490.5 L123.50,489.8 L122.75,485.9 L122.00,485.3 L121.25,480.8 L121.00,480.1 L120.50,481.3 L119.75,482.1 L119.00,482.4 L118.50,481.8 L118.25,481.3 L117.50,480.5 L116.75,481.6 L116.00,478.8 L115.00,477.5 L114.50,479.2 L113.75,483.8 L113.00,484.6 L112.50,485.8 L112.25,485.8 L111.50,485.0 L110.00,475.8 L109.25,473.4 L109.00,472.3 L108.50,470.8 L107.75,466.8 L107.00,465.4 L106.50,465.1 L106.25,465.7 L105.50,470.4 L104.75,473.5 L104.00,477.2 L103.75,478.6 L103.50,478.5 L103.25,477.7 L102.50,475.9 L101.75,476.4 L101.00,474.2 L100.25,478.1 L99.50,485.2 L99.25,486.3 L98.75,486.5 L98.00,483.4 L97.25,484.6 L96.50,482.1 L96.25,482.8 L95.75,485.3 L95.00,485.3 L94.25,485.6 L93.75,487.2 L93.50,486.9 L92.75,483.3 L92.00,481.7 L91.25,477.0 L90.50,474.2 L90.25,472.9 L89.75,471.5 L89.00,470.7 L88.25,472.1 L87.50,471.4 L87.00,471.6 L86.75,472.7 L86.00,472.4 L85.25,477.1 L85.00,477.2 L84.50,476.5 L83.75,479.7 L83.00,481.3 L82.25,480.3 L81.50,480.6 L80.75,482.2 L80.00,480.8 L79.75,481.6 L79.50,482.0 L79.25,482.3 L78.50,482.0 L77.75,478.8 L77.00,480.7 L76.25,479.4 L75.50,476.7 L74.75,475.7 L74.00,476.5 L73.25,474.9 L73.00,474.9 L72.50,474.8 L71.75,471.7 L71.00,470.9 L70.25,470.5 L69.75,469.8 L69.50,469.7 Z" fill="url(#lg)" stroke="url(#lg)" stroke-width="0.4" stroke-linejoin="round"/>
<rect x="69.5" y="396.9" width="728.5" height="1.2" fill="#f89d70"/>
</g>
<g>
<text x="69.6" y="521.4" text-anchor="middle" textLength="66.6" lengthAdjust="spacingAndGlyphs">11.01.2006</text>
<text x="152.6" y="521.4" text-anchor="middle" textLength="66.6" lengthAdjust="spacingAndGlyphs">11.11.2007</text>
<text x="234.6" y="521.4" text-anchor="middle" textLength="66.6" lengthAdjust="spacingAndGlyphs">10.09.2009</text>
<text x="317.6" y="521.4" text-anchor="middle" textLength="66.6" lengthAdjust="spacingAndGlyphs">11.07.2011</text>
<text x="399.6" y="521.4" text-anchor="middle" textLength="66.6" lengthAdjust="spacingAndGlyphs">10.05.2013</text>
<text x="482.6" y="521.4" text-anchor="middle" textLength="66.6" lengthAdjust="spacingAndGlyphs">10.03.2015</text>
<text x="564.6" y="521.4" text-anchor="middle" textLength="66.6" lengthAdjust="spacingAndGlyphs">07.01.2017</text>
<text x="647.6" y="521.4" text-anchor="middle" textLength="66.6" lengthAdjust="spacingAndGlyphs">07.11.2018</text>
<text x="729.6" y="521.4" text-anchor="middle" textLength="66.6" lengthAdjust="spacingAndGlyphs">06.09.2020</text>
<text x="59.6" y="81.1" text-anchor="end" textLength="15.6" lengthAdjust="spacingAndGlyphs">10</text>
<text x="59.6" y="123.1" text-anchor="end" textLength="7.6" lengthAdjust="spacingAndGlyphs">9</text>
<text x="59.6" y="165.1" text-anchor="end" textLength="7.6" lengthAdjust="spacingAndGlyphs">8</text>
<text x="59.6" y="207.1" text-anchor="end" textLength="7.6" lengthAdjust="spacingAndGlyphs">7</text>
<text x="59.6" y="249.1" text-anchor="end" textLength="7.6" lengthAdjust="spacingAndGlyphs">6</text>
<text x="59.6" y="292.1" text-anchor="end" textLength="7.6" lengthAdjust="spacingAndGlyphs">5</text>
<text x="59.6" y="334.1" text-anchor="end" textLength="7.6" lengthAdjust="spacingAndGlyphs">4</text>
<text x="59.6" y="376.1" text-anchor="end" textLength="7.6" lengthAdjust="spacingAndGlyphs">3</text>
<text x="59.6" y="418.1" text-anchor="end" textLength="7.6" lengthAdjust="spacingAndGlyphs">2</text>
<text x="59.6" y="460.1" text-anchor="end" textLength="7.6" lengthAdjust="spacingAndGlyphs">1</text>
<text x="59.6" y="502.1" text-anchor="end" textLength="7.6" lengthAdjust="spacingAndGlyphs">0</text>
</g>
</svg>
<div id="callout"></div>
<svg id="arrows" width="1300" height="600" viewBox="0 0 1300 600">
<g fill="none" stroke="#4668b6" stroke-width="1.6" stroke-linecap="butt" stroke-linejoin="miter">
<path d="M779.5,158.5 L218.5,224.3 M229.5,217.5 L218.5,224.3 L230.5,228"/>
<path d="M779.5,158.5 L476.5,264.5 M485.8,256.2 L476.5,264.5 L489,265.5"/>
<path d="M779.5,158.5 L715.5,309.3 M715,297.2 L715.5,309.3 L724.5,301.2"/>
</g>
<g text-anchor="middle">
<text x="1038.1" y="60.8" textLength="314.3" lengthAdjust="spacingAndGlyphs">Резкий рост индекса</text>
<text x="1037.5" y="97.7" textLength="320.8" lengthAdjust="spacingAndGlyphs">финансового стресса</text>
<text x="1038.4" y="134.4" textLength="477.3" lengthAdjust="spacingAndGlyphs">указывает на спад в экономике,</text>
<text x="1038.5" y="171.1" textLength="425" lengthAdjust="spacingAndGlyphs">скорее всего в будущем она</text>
<text x="1037.6" y="208" textLength="310.8" lengthAdjust="spacingAndGlyphs">скатится в рецессию</text>
</g>
</svg>
<div class="btns">
<div class="btn" style="left:0;width:64px">Неделя</div>
<div class="btn" style="left:72.2px;width:58.5px">Месяц</div>
<div class="btn" style="left:139.2px;width:68.6px">Квартал</div>
<div class="btn" style="left:216.2px;width:37.6px">Год</div>
<div class="btn on" style="left:262px;width:98px">Весь период</div>
</div>
<svg id="logo" width="190" height="62" viewBox="1020 530 190 62">
<path d="M1033.04,584.66 C1033.04,582.48 1033.45,574.43 1033.04,571.61 C1032.64,568.80 1031.51,569.36 1030.63,567.75 C1029.74,566.14 1028.53,563.88 1027.73,561.95 C1026.92,560.02 1026.15,557.93 1025.80,556.15 C1025.44,554.38 1025.44,552.93 1025.60,551.32 C1025.76,549.71 1026.09,548.10 1026.76,546.49 C1027.44,544.88 1028.37,542.95 1029.66,541.66 C1030.95,540.37 1032.88,539.44 1034.49,538.76 C1036.10,538.09 1037.71,537.85 1039.32,537.60 C1040.93,537.36 1042.54,537.31 1044.15,537.31 C1045.76,537.31 1047.38,537.39 1048.99,537.60 C1050.60,537.81 1052.45,538.14 1053.82,538.57 C1055.19,539.00 1056.47,539.62 1057.20,540.21 C1057.92,540.81 1057.76,540.94 1058.16,542.14 C1058.57,543.35 1059.05,545.93 1059.61,547.46 C1060.18,548.99 1061.10,550.28 1061.55,551.32 C1062.00,552.37 1062.32,553.10 1062.32,553.74 C1062.32,554.38 1061.43,554.46 1061.55,555.19 C1061.66,555.91 1062.27,556.88 1063.00,558.09 C1063.72,559.29 1065.73,561.39 1065.89,562.43 C1066.05,563.48 1064.52,563.80 1063.96,564.37 C1063.40,564.93 1062.67,565.33 1062.51,565.82 C1062.35,566.30 1063.08,566.78 1063.00,567.27 C1062.91,567.75 1062.03,568.23 1062.03,568.71 C1062.03,569.20 1063.00,569.68 1063.00,570.16 C1063.00,570.65 1062.03,571.05 1062.03,571.61 C1062.03,572.18 1062.75,572.90 1063.00,573.55 C1063.24,574.19 1063.64,574.83 1063.48,575.48 C1063.32,576.12 1062.83,576.93 1062.03,577.41 C1061.22,577.89 1059.86,578.14 1058.65,578.38 C1057.44,578.62 1055.67,578.62 1054.78,578.86 C1053.90,579.10 1053.66,579.42 1053.33,579.83 C1053.01,580.23 1052.93,580.47 1052.85,581.28 C1052.77,582.08 1052.85,584.09 1052.85,584.66" fill="none" stroke="#a0b0dc" stroke-width="1.3" stroke-linecap="butt" stroke-linejoin="round"/>
<rect x="1032.2" y="572" width="1.7" height="12.7" fill="#a0b0dc" fill-opacity="0.8"/>
<rect x="1052" y="581.5" width="1.7" height="3.2" fill="#a0b0dc" fill-opacity="0.8"/>
<rect x="1032.49" y="546.98" width="1.1" height="16.91" fill="#fcb98a" fill-opacity="0.6"/>
<rect x="1031.59" y="550.84" width="2.90" height="9.18" rx="0.4" fill="#fcb98a"/>
<rect x="1036.55" y="551.81" width="1.1" height="24.15" fill="#9fafdb" fill-opacity="0.6"/>
<rect x="1035.75" y="560.02" width="2.80" height="7.25" rx="0.4" fill="#9fafdb"/>
<rect x="1040.51" y="551.81" width="1.1" height="32.85" fill="#9fafdb" fill-opacity="0.6"/>
<rect x="1039.61" y="558.57" width="3.09" height="16.43" rx="0.4" fill="#9fafdb"/>
<rect x="1044.57" y="542.63" width="1.1" height="19.32" fill="#9fafdb" fill-opacity="0.6"/>
<rect x="1043.67" y="549.39" width="3.09" height="5.60" rx="0.4" fill="#9fafdb"/>
<rect x="1048.63" y="552.29" width="1.1" height="19.81" fill="#fcb98a" fill-opacity="0.6"/>
<rect x="1047.73" y="557.89" width="3.00" height="8.41" rx="0.4" fill="#fcb98a"/>
<rect x="1052.78" y="542.14" width="1.1" height="33.82" fill="#9fafdb" fill-opacity="0.6"/>
<rect x="1051.88" y="552.29" width="2.90" height="14.49" rx="0.4" fill="#9fafdb"/>
<rect x="1056.65" y="551.81" width="1.1" height="9.18" fill="#fcb98a" fill-opacity="0.6"/>
<rect x="1055.75" y="555.00" width="3.09" height="3.09" rx="0.4" fill="#fcb98a"/>
<text x="1072.4" y="556" font-size="17.8" fill="#a3b2dc" textLength="48.6" lengthAdjust="spacingAndGlyphs">МИР</text>
<text x="1073.3" y="576.8" font-size="17.8" fill="#fec191" textLength="126.4" lengthAdjust="spacingAndGlyphs">ТРЕЙДИНГА</text>
</svg>
</body>
</html>
